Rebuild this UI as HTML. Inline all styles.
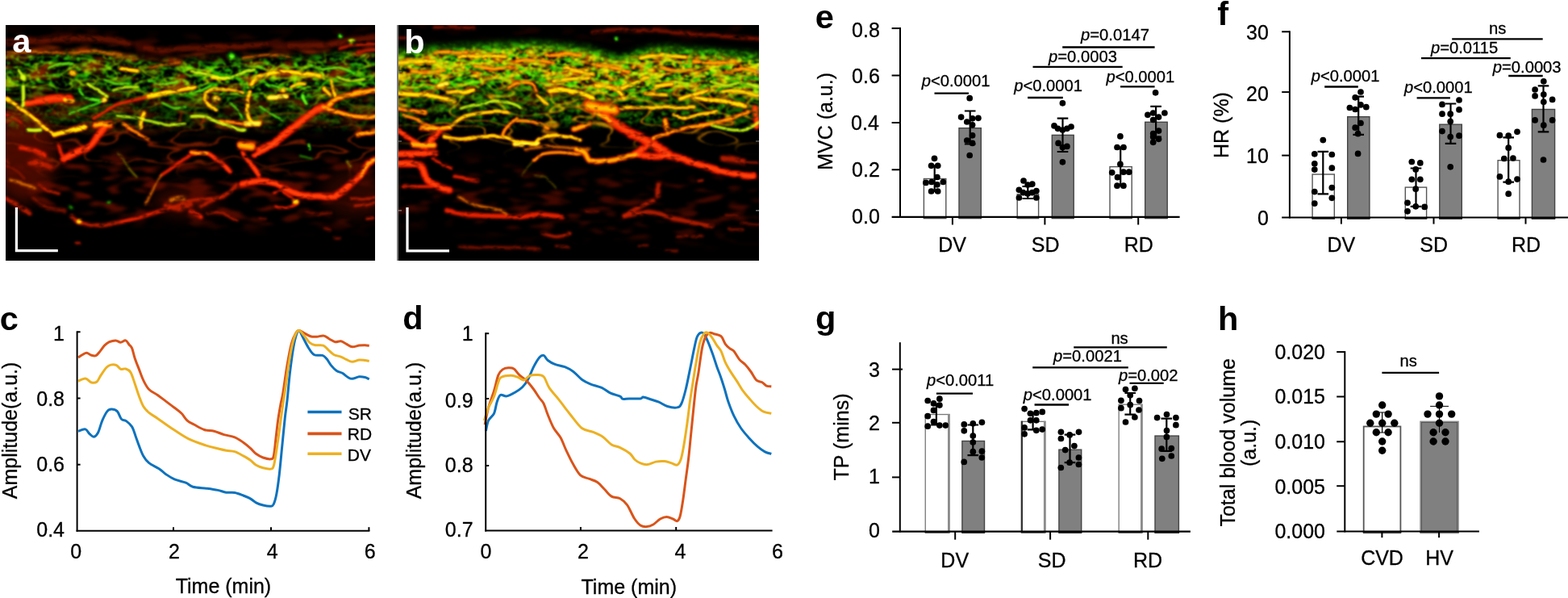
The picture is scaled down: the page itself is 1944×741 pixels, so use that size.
<!DOCTYPE html>
<html lang="en">
<head>
<meta charset="utf-8">
<title>Figure panels a-h</title>
<style>
html,body{margin:0;padding:0;background:#fff;}
body{width:1944px;height:741px;overflow:hidden;}
svg{display:block;font-family:"Liberation Sans", sans-serif;}
</style>
</head>
<body>
<svg width="1944" height="741" viewBox="0 0 1944 741">
<rect width="1944" height="741" fill="#fff"/>
<defs>
<clipPath id="clipA"><rect x="7" y="31" width="458" height="292"/></clipPath>
<clipPath id="clipB"><rect x="494" y="31" width="447" height="292"/></clipPath>
<filter id="b3" filterUnits="userSpaceOnUse" x="0" y="20" width="980" height="320" color-interpolation-filters="sRGB"><feGaussianBlur stdDeviation="4"/></filter>
<filter id="b8" filterUnits="userSpaceOnUse" x="0" y="20" width="980" height="320" color-interpolation-filters="sRGB"><feGaussianBlur stdDeviation="9"/></filter>
<filter id="vA0" filterUnits="userSpaceOnUse" x="0" y="20" width="980" height="320" color-interpolation-filters="sRGB"><feTurbulence type="fractalNoise" baseFrequency="0.035" numOctaves="2" seed="3" result="t1"/><feDisplacementMap in="SourceGraphic" in2="t1" scale="4.5" xChannelSelector="R" yChannelSelector="G" result="d"/><feGaussianBlur in="d" stdDeviation="1.7" result="b"/><feTurbulence type="fractalNoise" baseFrequency="0.09 0.14" numOctaves="2" seed="43" result="t2"/><feColorMatrix in="t2" type="matrix" values="0 0 0 0 1 0 0 0 0 1 0 0 0 0 1 2.3 0 0 0 -0.15" result="m"/><feComposite in="b" in2="m" operator="in"/></filter>
<filter id="vA1" filterUnits="userSpaceOnUse" x="0" y="20" width="980" height="320" color-interpolation-filters="sRGB"><feTurbulence type="fractalNoise" baseFrequency="0.035" numOctaves="2" seed="3" result="t1"/><feDisplacementMap in="SourceGraphic" in2="t1" scale="4.5" xChannelSelector="R" yChannelSelector="G" result="d"/><feGaussianBlur in="d" stdDeviation="1.2" result="b"/><feTurbulence type="fractalNoise" baseFrequency="0.09 0.14" numOctaves="2" seed="43" result="t2"/><feColorMatrix in="t2" type="matrix" values="0 0 0 0 1 0 0 0 0 1 0 0 0 0 1 2.3 0 0 0 -0.15" result="m"/><feComposite in="b" in2="m" operator="in"/></filter>
<filter id="vA2" filterUnits="userSpaceOnUse" x="0" y="20" width="980" height="320" color-interpolation-filters="sRGB"><feTurbulence type="fractalNoise" baseFrequency="0.035" numOctaves="2" seed="3" result="t1"/><feDisplacementMap in="SourceGraphic" in2="t1" scale="4.5" xChannelSelector="R" yChannelSelector="G" result="d"/><feGaussianBlur in="d" stdDeviation="0.9" result="b"/><feTurbulence type="fractalNoise" baseFrequency="0.09 0.14" numOctaves="2" seed="43" result="t2"/><feColorMatrix in="t2" type="matrix" values="0 0 0 0 1 0 0 0 0 1 0 0 0 0 1 2.3 0 0 0 -0.15" result="m"/><feComposite in="b" in2="m" operator="in"/></filter>
<filter id="vB0" filterUnits="userSpaceOnUse" x="0" y="20" width="980" height="320" color-interpolation-filters="sRGB"><feTurbulence type="fractalNoise" baseFrequency="0.035" numOctaves="2" seed="9" result="t1"/><feDisplacementMap in="SourceGraphic" in2="t1" scale="4.5" xChannelSelector="R" yChannelSelector="G" result="d"/><feGaussianBlur in="d" stdDeviation="1.7" result="b"/><feTurbulence type="fractalNoise" baseFrequency="0.09 0.14" numOctaves="2" seed="49" result="t2"/><feColorMatrix in="t2" type="matrix" values="0 0 0 0 1 0 0 0 0 1 0 0 0 0 1 2.3 0 0 0 -0.15" result="m"/><feComposite in="b" in2="m" operator="in"/></filter>
<filter id="vB1" filterUnits="userSpaceOnUse" x="0" y="20" width="980" height="320" color-interpolation-filters="sRGB"><feTurbulence type="fractalNoise" baseFrequency="0.035" numOctaves="2" seed="9" result="t1"/><feDisplacementMap in="SourceGraphic" in2="t1" scale="4.5" xChannelSelector="R" yChannelSelector="G" result="d"/><feGaussianBlur in="d" stdDeviation="1.2" result="b"/><feTurbulence type="fractalNoise" baseFrequency="0.09 0.14" numOctaves="2" seed="49" result="t2"/><feColorMatrix in="t2" type="matrix" values="0 0 0 0 1 0 0 0 0 1 0 0 0 0 1 2.3 0 0 0 -0.15" result="m"/><feComposite in="b" in2="m" operator="in"/></filter>
<filter id="vB2" filterUnits="userSpaceOnUse" x="0" y="20" width="980" height="320" color-interpolation-filters="sRGB"><feTurbulence type="fractalNoise" baseFrequency="0.035" numOctaves="2" seed="9" result="t1"/><feDisplacementMap in="SourceGraphic" in2="t1" scale="4.5" xChannelSelector="R" yChannelSelector="G" result="d"/><feGaussianBlur in="d" stdDeviation="0.9" result="b"/><feTurbulence type="fractalNoise" baseFrequency="0.09 0.14" numOctaves="2" seed="49" result="t2"/><feColorMatrix in="t2" type="matrix" values="0 0 0 0 1 0 0 0 0 1 0 0 0 0 1 2.3 0 0 0 -0.15" result="m"/><feComposite in="b" in2="m" operator="in"/></filter>
<filter id="nAg" filterUnits="userSpaceOnUse" x="0" y="20" width="980" height="320" color-interpolation-filters="sRGB"><feTurbulence type="fractalNoise" baseFrequency="0.09 0.15" numOctaves="2" seed="4"/><feColorMatrix type="matrix" values="0 0 0 0 0.12 0 0 0 0 0.75 0 0 0 0 0.02 5 0 0 0 -2.65"/><feGaussianBlur stdDeviation="1"/></filter>
<filter id="sAg" filterUnits="userSpaceOnUse" x="0" y="20" width="980" height="320" color-interpolation-filters="sRGB"><feTurbulence type="fractalNoise" baseFrequency="0.2 0.28" numOctaves="2" seed="41"/><feColorMatrix type="matrix" values="0 0 0 0 0.25 0 0 0 0 0.9 0 0 0 0 0.02 7 0 0 0 -4.09"/><feGaussianBlur stdDeviation="0.8"/></filter>
<filter id="sBg" filterUnits="userSpaceOnUse" x="0" y="20" width="980" height="320" color-interpolation-filters="sRGB"><feTurbulence type="fractalNoise" baseFrequency="0.2 0.28" numOctaves="2" seed="43"/><feColorMatrix type="matrix" values="0 0 0 0 0.25 0 0 0 0 0.85 0 0 0 0 0.02 7 0 0 0 -3.99"/><feGaussianBlur stdDeviation="0.8"/></filter>
<filter id="sBo" filterUnits="userSpaceOnUse" x="0" y="20" width="980" height="320" color-interpolation-filters="sRGB"><feTurbulence type="fractalNoise" baseFrequency="0.18 0.28" numOctaves="2" seed="47"/><feColorMatrix type="matrix" values="0 0 0 0 1 0 0 0 0 0.5 0 0 0 0 0 7 0 0 0 -4.06"/><feGaussianBlur stdDeviation="0.8"/></filter>
<filter id="nAr" filterUnits="userSpaceOnUse" x="0" y="20" width="980" height="320" color-interpolation-filters="sRGB"><feTurbulence type="fractalNoise" baseFrequency="0.03 0.09" numOctaves="2" seed="11"/><feColorMatrix type="matrix" values="0 0 0 0 0.55 0 0 0 0 0.14 0 0 0 0 0 4 0 0 0 -1.88"/><feGaussianBlur stdDeviation="1.6"/></filter>
<filter id="nAd" filterUnits="userSpaceOnUse" x="0" y="20" width="980" height="320" color-interpolation-filters="sRGB"><feTurbulence type="fractalNoise" baseFrequency="0.03 0.08" numOctaves="2" seed="23"/><feColorMatrix type="matrix" values="0 0 0 0 0.45 0 0 0 0 0.06 0 0 0 0 0 5 0 0 0 -2.5"/><feGaussianBlur stdDeviation="1.8"/></filter>
<filter id="cAg" filterUnits="userSpaceOnUse" x="0" y="20" width="980" height="320" color-interpolation-filters="sRGB"><feTurbulence type="fractalNoise" baseFrequency="0.03 0.075" numOctaves="2" seed="4"/><feColorMatrix type="matrix" values="0 0 0 0 0.2 0 0 0 0 0.95 0 0 0 0 0 1 0 0 0 0"/><feComponentTransfer><feFuncA type="table" tableValues="0 0 0 0 0 0 0 0 0 0 0 0 0 0 0 0 0 0.5 1 0.5 0 0 0 0 0 0 0 0 0 0 0 0 0 0 0 0 0"/></feComponentTransfer><feGaussianBlur stdDeviation="0.8"/></filter>
<filter id="cAy" filterUnits="userSpaceOnUse" x="0" y="20" width="980" height="320" color-interpolation-filters="sRGB"><feTurbulence type="fractalNoise" baseFrequency="0.022 0.06" numOctaves="2" seed="18"/><feColorMatrix type="matrix" values="0 0 0 0 0.7 0 0 0 0 1 0 0 0 0 0 1 0 0 0 0"/><feComponentTransfer><feFuncA type="table" tableValues="0 0 0 0 0 0 0 0 0 0 0 0 0 0 0 0 0 0 0 0 0 0 0 0 0 0 0 0 0 0.5 1 0.5 0 0 0 0 0 0 0 0 0 0 0 0 0 0 0 0 0 0 0 0 0 0 0 0 0 0 0 0 0"/></feComponentTransfer><feGaussianBlur stdDeviation="0.8"/></filter>
<filter id="cAo" filterUnits="userSpaceOnUse" x="0" y="20" width="980" height="320" color-interpolation-filters="sRGB"><feTurbulence type="fractalNoise" baseFrequency="0.016 0.045" numOctaves="2" seed="27"/><feColorMatrix type="matrix" values="0 0 0 0 0.85 0 0 0 0 0.2 0 0 0 0 0 1 0 0 0 0"/><feComponentTransfer><feFuncA type="table" tableValues="0 0 0 0 0 0 0 0 0 0 0 0 0 0 0 0 0 0 0 0 0 0 0 0 0 0 0 0 0 0 0 0 0 0 0 0 0 0 0 0 0 0 0 0.2 0.6 1 0.6 0.2 0 0 0 0 0 0 0 0 0 0 0 0 0 0 0 0 0 0 0 0 0 0 0 0 0 0 0 0 0 0 0 0 0 0 0 0 0 0 0 0 0 0 0"/></feComponentTransfer><feGaussianBlur stdDeviation="1.2"/></filter>
<filter id="nBg" filterUnits="userSpaceOnUse" x="0" y="20" width="980" height="320" color-interpolation-filters="sRGB"><feTurbulence type="fractalNoise" baseFrequency="0.09 0.15" numOctaves="2" seed="5"/><feColorMatrix type="matrix" values="0 0 0 0 0.12 0 0 0 0 0.7 0 0 0 0 0.02 5 0 0 0 -2.35"/><feGaussianBlur stdDeviation="1"/></filter>
<filter id="nBy" filterUnits="userSpaceOnUse" x="0" y="20" width="980" height="320" color-interpolation-filters="sRGB"><feTurbulence type="fractalNoise" baseFrequency="0.04 0.13" numOctaves="2" seed="17"/><feColorMatrix type="matrix" values="0 0 0 0 0.85 0 0 0 0 0.33 0 0 0 0 0 4 0 0 0 -1.96"/><feGaussianBlur stdDeviation="1.4"/></filter>
<filter id="nBd" filterUnits="userSpaceOnUse" x="0" y="20" width="980" height="320" color-interpolation-filters="sRGB"><feTurbulence type="fractalNoise" baseFrequency="0.03 0.09" numOctaves="2" seed="29"/><feColorMatrix type="matrix" values="0 0 0 0 0.42 0 0 0 0 0.05 0 0 0 0 0 5 0 0 0 -2.6"/><feGaussianBlur stdDeviation="1.8"/></filter>
<filter id="cBy" filterUnits="userSpaceOnUse" x="0" y="20" width="980" height="320" color-interpolation-filters="sRGB"><feTurbulence type="fractalNoise" baseFrequency="0.028 0.075" numOctaves="2" seed="7"/><feColorMatrix type="matrix" values="0 0 0 0 1 0 0 0 0 0.8 0 0 0 0 0 1 0 0 0 0"/><feComponentTransfer><feFuncA type="table" tableValues="0 0 0 0 0 0 0 0 0 0 0 0 0 0 0 0 0 0 0 0 0 0.5 1 0.5 0 0 0 0 0 0 0 0 0 0 0 0 0 0 0 0 0 0 0 0 0"/></feComponentTransfer><feGaussianBlur stdDeviation="0.8"/></filter>
<filter id="cBo" filterUnits="userSpaceOnUse" x="0" y="20" width="980" height="320" color-interpolation-filters="sRGB"><feTurbulence type="fractalNoise" baseFrequency="0.022 0.065" numOctaves="2" seed="21"/><feColorMatrix type="matrix" values="0 0 0 0 1 0 0 0 0 0.42 0 0 0 0 0 1 0 0 0 0"/><feComponentTransfer><feFuncA type="table" tableValues="0 0 0 0 0 0 0 0 0 0 0 0 0 0 0 0 0 0 0.09 0.55 1 0.55 0.09 0 0 0 0 0 0 0 0 0 0 0 0 0 0 0 0 0 0"/></feComponentTransfer><feGaussianBlur stdDeviation="0.9"/></filter>
<filter id="cBg" filterUnits="userSpaceOnUse" x="0" y="20" width="980" height="320" color-interpolation-filters="sRGB"><feTurbulence type="fractalNoise" baseFrequency="0.035 0.08" numOctaves="2" seed="33"/><feColorMatrix type="matrix" values="0 0 0 0 0.25 0 0 0 0 1 0 0 0 0 0 1 0 0 0 0"/><feComponentTransfer><feFuncA type="table" tableValues="0 0 0 0 0 0 0 0 0 0 0 0 0 0.5 1 0.5 0 0 0 0 0 0 0 0 0 0 0 0 0"/></feComponentTransfer><feGaussianBlur stdDeviation="0.8"/></filter>
<filter id="cBl" filterUnits="userSpaceOnUse" x="0" y="20" width="980" height="320" color-interpolation-filters="sRGB"><feTurbulence type="fractalNoise" baseFrequency="0.016 0.045" numOctaves="2" seed="44"/><feColorMatrix type="matrix" values="0 0 0 0 1 0 0 0 0 0.6 0 0 0 0 0 1 0 0 0 0"/><feComponentTransfer><feFuncA type="table" tableValues="0 0 0 0 0 0 0 0 0 0 0 0 0 0 0 0 0 0 0 0 0 0 0 0 0 0 0 0 0 0 0 0 0 0 0 0 0 0 0 0 0 0 0 0.2 0.6 1 0.6 0.2 0 0 0 0 0 0 0 0 0 0 0 0 0 0 0 0 0 0 0 0 0 0 0 0 0 0 0 0 0 0 0 0 0 0 0 0 0 0 0 0 0 0 0"/></feComponentTransfer><feGaussianBlur stdDeviation="0.9"/></filter>
<mask id="mAg" maskUnits="userSpaceOnUse" x="0" y="20" width="980" height="320"><g filter="url(#b3)" fill="none" stroke="#fff" stroke-linecap="butt"><path d="M0 92 L40 90 L80 88 L120 87 L150 92 L180 98 L210 100 L237 98 L280 96 L330 94 L380 94 L420 90 L470 86" stroke-width="46" opacity="0.6"/><path d="M250 96 L400 100" stroke-width="40" opacity="0.5"/><path d="M0 140 L470 140" stroke-width="40" opacity="0.25"/></g></mask>
<mask id="mAr" maskUnits="userSpaceOnUse" x="0" y="20" width="980" height="320"><g filter="url(#b3)" fill="none" stroke="#fff" stroke-linecap="butt"><path d="M0 80 L40 78 L80 76 L120 75 L150 80 L180 86 L210 88 L237 86 L280 84 L330 82 L380 82 L420 78 L470 74" stroke-width="46" opacity="0.9"/><path d="M0 135 L470 135" stroke-width="60" opacity="0.5"/></g></mask>
<mask id="mAd" maskUnits="userSpaceOnUse" x="0" y="20" width="980" height="320"><g filter="url(#b8)" fill="none" stroke="#fff" stroke-linecap="butt"><path d="M0 215 L90 225 L237 238 L470 238" stroke-width="80" opacity="0.75"/><path d="M0 54 L40 52 L80 50 L120 49 L150 54 L180 60 L210 62 L237 60 L280 58 L330 56 L380 56 L420 52 L470 48" stroke-width="14" opacity="0.9"/></g></mask>
<mask id="mAc" maskUnits="userSpaceOnUse" x="0" y="20" width="980" height="320"><g filter="url(#b3)" fill="none" stroke="#fff" stroke-linecap="butt"><path d="M0 94 L40 92 L80 90 L120 89 L150 94 L180 100 L210 102 L237 100 L280 98 L330 96 L380 96 L420 92 L470 88" stroke-width="46" opacity="0.62"/><path d="M230 100 L410 104" stroke-width="44" opacity="0.5"/><path d="M0 135 L470 135" stroke-width="30" opacity="0.25"/></g></mask>
<mask id="mAo" maskUnits="userSpaceOnUse" x="0" y="20" width="980" height="320"><g filter="url(#b8)" fill="none" stroke="#fff" stroke-linecap="butt"><path d="M0 170 L470 170" stroke-width="80" opacity="0.55"/></g></mask>
<mask id="mBg" maskUnits="userSpaceOnUse" x="0" y="20" width="980" height="320"><g filter="url(#b3)" fill="none" stroke="#fff" stroke-linecap="butt"><path d="M490 90 L530 85 L570 83 L620 80 L660 79 L700 82 L730 86 L755 95 L775 98 L790 90 L810 85 L830 84 L860 87 L900 90 L945 94" stroke-width="50" opacity="0.95"/><path d="M490 130 L945 130" stroke-width="50" opacity="0.45"/></g></mask>
<mask id="mBy" maskUnits="userSpaceOnUse" x="0" y="20" width="980" height="320"><g filter="url(#b3)" fill="none" stroke="#fff" stroke-linecap="butt"><path d="M490 88 L530 83 L570 81 L620 78 L660 77 L700 80 L730 84 L755 93 L775 96 L790 88 L810 83 L830 82 L860 85 L900 88 L945 92" stroke-width="34" opacity="1"/></g></mask>
<mask id="mBc" maskUnits="userSpaceOnUse" x="0" y="20" width="980" height="320"><g filter="url(#b3)" fill="none" stroke="#fff" stroke-linecap="butt"><path d="M490 94 L530 89 L570 87 L620 84 L660 83 L700 86 L730 90 L755 99 L775 102 L790 94 L810 89 L830 88 L860 91 L900 94 L945 98" stroke-width="46" opacity="0.8"/><path d="M490 120 L945 120" stroke-width="30" opacity="0.3"/></g></mask>
<mask id="mBl" maskUnits="userSpaceOnUse" x="0" y="20" width="980" height="320"><g filter="url(#b8)" fill="none" stroke="#fff" stroke-linecap="butt"><path d="M490 142 L945 142" stroke-width="70" opacity="0.8"/></g></mask>
<mask id="mBd" maskUnits="userSpaceOnUse" x="0" y="20" width="980" height="320"><g filter="url(#b8)" fill="none" stroke="#fff" stroke-linecap="butt"><path d="M490 230 L700 255 L945 255" stroke-width="80" opacity="0.6"/><path d="M490 36 L945 40" stroke-width="10" opacity="0.5"/></g></mask>
</defs>
<g id="panel-a" clip-path="url(#clipA)" style="isolation:isolate">
<rect x="7" y="31" width="458" height="292" fill="#000"/>
<g mask="url(#mAd)" style="mix-blend-mode:screen"><rect x="7" y="31" width="458" height="292" filter="url(#nAd)"/></g>
<g filter="url(#b8)"><ellipse cx="30" cy="190" rx="38" ry="60" fill="#5a0d00" opacity="0.8"/><ellipse cx="230" cy="250" rx="40" ry="18" fill="#4a0a00" opacity="0.7"/><ellipse cx="440" cy="240" rx="40" ry="30" fill="#3a0800" opacity="0.7"/></g>
<g mask="url(#mAr)" style="mix-blend-mode:screen"><rect x="7" y="31" width="458" height="292" filter="url(#nAr)"/></g>
<g mask="url(#mAg)" style="mix-blend-mode:screen"><rect x="7" y="31" width="458" height="292" filter="url(#nAg)"/></g>
<g mask="url(#mAg)" style="mix-blend-mode:screen"><rect x="7" y="31" width="458" height="292" filter="url(#sAg)"/></g>
<g mask="url(#mAo)" style="mix-blend-mode:screen"><rect x="7" y="31" width="458" height="292" filter="url(#cAo)"/></g>
<g mask="url(#mAc)" style="mix-blend-mode:screen"><rect x="7" y="31" width="458" height="292" filter="url(#cAg)"/></g>
<g mask="url(#mAc)" style="mix-blend-mode:screen"><rect x="7" y="31" width="458" height="292" filter="url(#cAy)"/></g>
<defs><path id="a0" d="M7 53C12.5 52.67 27.83 51.67 40 51C52.17 50.33 66.67 49.67 80 49C93.33 48.33 110 47 120 47C130 47 133.33 47.67 140 49C146.67 50.33 156.67 54 160 55"/><path id="a1" d="M180 60C183.33 60.33 190.5 62.17 200 62C209.5 61.83 223.67 59.67 237 59C250.33 58.33 264.5 58.67 280 58C295.5 57.33 321.67 55.5 330 55"/><path id="a2" d="M360 57C366.67 56.83 388.33 57.17 400 56C411.67 54.83 419.17 51.83 430 50C440.83 48.17 459.17 45.83 465 45"/><path id="a3" d="M7 66C12.5 65.67 27.83 64 40 64C52.17 64 66.67 66 80 66C93.33 66 108.33 63.67 120 64C131.67 64.33 145 67.33 150 68"/><path id="a4" d="M444 66C445.83 65.5 451.5 63.67 455 63C458.5 62.33 463.33 62.17 465 62"/><path id="a5" d="M420 60C423.33 59.33 432.5 57 440 56C447.5 55 460.83 54.33 465 54"/><path id="a6" d="M184.4 84.2C187.83 83.5 198.43 81.15 205 80C211.57 78.85 220.67 77.75 223.8 77.3"/><path id="a7" d="M300 72C305 71.33 320 68.33 330 68C340 67.67 355 69.67 360 70"/><path id="a8" d="M26.7 183C28.92 183.5 35.12 184.33 40 186C44.88 187.67 53.33 191.83 56 193"/><path id="a9" d="M36.6 202.6C38.83 202.67 45.77 202.33 50 203C54.23 203.67 60 206 62 206.6"/><path id="a10" d="M13 224C15.5 224.67 23.08 226.67 28 228C32.92 229.33 40.08 231.33 42.5 232"/><path id="a11" d="M7 246C9.17 247.17 15.07 250.05 20 253C24.93 255.95 33.83 261.92 36.6 263.7"/><path id="a12" d="M7 205C9.17 206.17 16.17 209.17 20 212C23.83 214.83 28.33 220.33 30 222"/><path id="a13" d="M48 228C50 229.33 56 234 60 236C64 238 70 239.33 72 240"/><path id="a14" d="M40 245C43.33 247.17 53.33 255.17 60 258C66.67 260.83 76.67 261.33 80 262"/><path id="a15" d="M89.8 268C91.43 269.08 93.65 272.6 99.6 274.5C105.55 276.4 117.93 279.15 125.5 279.4C133.07 279.65 138.02 277.4 145 276C151.98 274.6 159.9 273 167.4 271C174.9 269 183.07 266.08 190 264C196.93 261.92 201.62 260.83 209 258.5C216.38 256.17 226.63 251.83 234.3 250C241.97 248.17 248.72 248.17 255 247.5C261.28 246.83 267.17 247.42 272 246C276.83 244.58 280.5 241.83 284 239C287.5 236.17 291.5 230.67 293 229"/><path id="a16" d="M150 275C152.9 274.33 160.73 272.83 167.4 271C174.07 269.17 183.07 266.08 190 264C196.93 261.92 205.83 259.42 209 258.5"/><path id="a17" d="M212 248C213.33 247.67 217.33 246.17 220 246C222.67 245.83 226.67 246.83 228 247"/><path id="a18" d="M206 255C208.33 255.5 214.83 258.17 220 258C225.17 257.83 234.17 254.67 237 254"/><path id="a19" d="M200 217C202 215.67 208 211.83 212 209C216 206.17 220.33 202.5 224 200C227.67 197.5 231 195.67 234 194C237 192.33 240.67 190.67 242 190"/><path id="a20" d="M200 217C198.33 219.5 193.33 226.17 190 232C186.67 237.83 181.67 248.67 180 252"/><path id="a21" d="M145 188.8C147.62 192.08 156.43 203.4 160.7 208.5C164.97 213.6 168.95 217.58 170.6 219.4"/><path id="a22" d="M93 300L98 301.5"/><path id="a23" d="M249 255.8C251.27 254.83 258.03 251.97 262.6 250C267.17 248.03 274.1 245 276.4 244"/><path id="a24" d="M237 262C238 262.33 241 263 243 264C245 265 248 267.33 249 268"/><path id="a25" d="M256.7 263.7C259.98 263.7 270.15 262.05 276.4 263.7C282.65 265.35 291.23 271.95 294.2 273.6"/><path id="a26" d="M434 246C436.67 246.33 444.83 248.33 450 248C455.17 247.67 462.5 244.67 465 244"/><path id="a27" d="M440 256C442.5 255.67 450.83 255 455 254C459.17 253 463.33 250.67 465 250"/><path id="a28" d="M322 271L329 272"/><path id="a29" d="M403 283L410 284"/><path id="a30" d="M415 295L422 296"/><path id="a31" d="M456 270L463 269"/><path id="a32" d="M380 262C382.5 262.67 390 265.67 395 266C400 266.33 407.5 264.33 410 264"/><path id="a33" d="M137 154.5C135.83 154.75 132.5 153.75 130 156C127.5 158.25 124.83 164 122 168C119.17 172 117.33 176.67 113 180C108.67 183.33 101.5 185.25 96 188C90.5 190.75 82.67 195.08 80 196.5"/><path id="a34" d="M80 196.5C79.33 195.08 77 190.58 76 188C75 185.42 74.33 182.17 74 181"/><path id="a35" d="M237 189.8C240.28 189.97 251.12 189 256.7 190.8C262.28 192.6 265.9 196.98 270.5 200.6C275.1 204.22 282 210.52 284.3 212.5"/><path id="a36" d="M237 189.8C238.83 189.83 244.72 189.83 248 190C251.28 190.17 255.25 190.67 256.7 190.8"/><path id="a37" d="M302 188.8C303.65 191.43 308.62 199.67 311.9 204.6C315.18 209.53 320.07 216.1 321.7 218.4"/><path id="a38" d="M298 180C299.17 180.17 302.67 180.67 305 181C307.33 181.33 310.83 181.83 312 182"/><path id="a39" d="M315.8 192.8C318.43 191.17 327 185.63 331.6 183C336.2 180.37 341.43 178 343.4 177"/><path id="a40" d="M300 228.2C303.62 227.55 314.47 224.3 321.7 224.3C328.93 224.3 337.15 226.23 343.4 228.2C349.65 230.17 353.93 233.8 359.2 236.1C364.47 238.4 369.08 241.02 375 242C380.92 242.98 388.8 241.67 394.7 242C400.6 242.33 405.8 244.65 410.4 244C415 243.35 418.35 240.73 422.3 238.1C426.25 235.47 430.17 231.82 434.1 228.2C438.03 224.58 442.62 220.33 445.9 216.4C449.18 212.47 450.62 207.55 453.8 204.6C456.98 201.65 463.13 199.68 465 198.7"/><path id="a41" d="M445.9 216.4C447.22 214.43 450.62 207.55 453.8 204.6C456.98 201.65 463.13 199.68 465 198.7"/><path id="a42" d="M339.5 240C341.47 239.68 347.37 237.1 351.3 238.1C355.23 239.1 360.15 243.7 363.1 246C366.05 248.3 370.3 249.93 369 251.9C367.7 253.87 359.88 257.15 355.3 257.8C350.72 258.45 343.8 256.13 341.5 255.8"/><path id="a43" d="M322 186C324.92 184.5 333.95 180.5 339.5 177C345.05 173.5 349.38 169.62 355.3 165C361.22 160.38 369.1 153.9 375 149.3C380.9 144.7 386.43 140.2 390.7 137.4C394.97 134.6 398.95 133.32 400.6 132.5"/><path id="a44" d="M400.6 132.5C403.55 133.48 412.72 136.6 418.3 138.4C423.88 140.2 428.82 142.2 434.1 143.3C439.38 144.4 444.85 144.67 450 145C455.15 145.33 462.5 145.25 465 145.3"/><path id="a45" d="M406.5 129.5C408.47 128.2 413.7 123.67 418.3 121.7C422.9 119.73 428.18 119.02 434.1 117.7C440.02 116.38 448.65 114.78 453.8 113.8C458.95 112.82 463.13 112.13 465 111.8"/><path id="a46" d="M444 167C445.83 166.5 451.5 164.83 455 164C458.5 163.17 463.33 162.33 465 162"/><path id="a47" d="M32.6 127.6C35.5 127.17 43.77 125.85 50 125C56.23 124.15 64.03 123.05 70 122.5C75.97 121.95 83.17 121.83 85.8 121.7"/><path id="a48" d="M115.4 147.3C117.83 145.75 125.07 140.97 130 138C134.93 135.03 139.17 131.83 145 129.5C150.83 127.17 158.43 125.63 165 124C171.57 122.37 181.17 120.42 184.4 119.7"/><path id="a49" d="M7 143C8.67 143.67 13.72 145.5 17 147C20.28 148.5 25.08 151.17 26.7 152"/><path id="a50" d="M7 122.6C8.97 123.75 14.53 126.7 18.8 129.5C23.07 132.3 28.33 136.1 32.6 139.4C36.87 142.7 40.45 146.02 44.4 149.3C48.35 152.58 52.35 156.15 56.3 159.1C60.25 162.05 66.13 165.68 68.1 167"/><path id="a51" d="M68.1 167C70.4 166.33 77.3 164.32 81.9 163C86.5 161.68 92.08 159.93 95.7 159.1C99.32 158.27 102.28 158.18 103.6 158"/><path id="a52" d="M34.6 161C35.83 161.08 39.37 161.5 42 161.5C44.63 161.5 49 161.08 50.4 161"/><path id="a53" d="M80 123.5L90 124.6"/><path id="a54" d="M184.4 119.7C187 119.08 194.9 117.2 200 116C205.1 114.8 210.33 113.5 215 112.5C219.67 111.5 223.67 110.67 228 110C232.33 109.33 238.83 108.75 241 108.5"/><path id="a55" d="M117 156C118.67 155.75 123.67 154.75 127 154.5C130.33 154.25 135.33 154.5 137 154.5"/><path id="a56" d="M178.5 139.4C178.08 140.83 176.67 145.07 176 148C175.33 150.93 174.75 155.5 174.5 157"/><path id="a57" d="M152.8 153.2C154.83 154.5 161.38 158.7 165 161C168.62 163.3 171.17 165.17 174.5 167C177.83 168.83 183.25 171.17 185 172"/><path id="a58" d="M149 85C150.83 85.25 156.4 86 160 86.5C163.6 87 168.83 87.75 170.6 88"/><path id="a59" d="M311.9 103.9C312.42 102.92 313.68 99.65 315 98C316.32 96.35 317.47 95.17 319.8 94C322.13 92.83 325.72 91.82 329 91C332.28 90.18 334.47 89.42 339.5 89.1C344.53 88.78 352.63 88.6 359.2 89.1C365.77 89.6 372.67 91.12 378.9 92.1C385.13 93.08 393.65 94.52 396.6 95"/><path id="a60" d="M262.6 96C264.67 96.08 271.05 96.5 275 96.5C278.95 96.5 284.42 96.08 286.3 96"/><path id="a61" d="M276.4 109.8C275 109.83 270.63 109.67 268 110C265.37 110.33 262.85 110.8 260.6 111.8C258.35 112.8 255.8 114.35 254.5 116C253.2 117.65 252.8 119.87 252.8 121.7C252.8 123.53 253.52 125.37 254.5 127C255.48 128.63 256.37 130.08 258.7 131.5C261.03 132.92 266.87 134.83 268.5 135.5"/><path id="a62" d="M276.4 109.8C278.67 110.17 285.73 110.97 290 112C294.27 113.03 300 115.33 302 116"/><path id="a63" d="M309.9 113.8C309.25 116.42 306.32 124.25 306 129.5C305.68 134.75 306.68 141.35 308 145.3C309.32 149.25 312.92 151.88 313.9 153.2"/><path id="a64" d="M304 153.5C305.5 153.45 310.05 153.25 313 153.2C315.95 153.15 320.25 153.2 321.7 153.2"/><path id="a65" d="M272.5 149.3C275.42 149.75 284.42 151.18 290 152C295.58 152.82 303.33 153.83 306 154.2"/><path id="a66" d="M333.6 121C335.5 120.92 341.38 120.55 345 120.5C348.62 120.45 353.58 120.67 355.3 120.7"/><path id="a67" d="M410.4 100C410.67 101.5 411.33 106.05 412 109C412.67 111.95 414 116.25 414.4 117.7"/><path id="a68" d="M400.6 109.8L408.5 117.7"/><path id="a69" d="M360 108C361.33 107.33 365 104.67 368 104C371 103.33 376.33 104 378 104"/><path id="a70" d="M28.7 105C28.75 107.17 29.03 113.5 29 118C28.97 122.5 28.58 129.67 28.5 132"/><path id="a71" d="M22 88C23 89 26.67 92.17 28 94C29.33 95.83 29.67 98.17 30 99"/><path id="a72" d="M85.8 141.4C89 140 98.43 135.63 105 133C111.57 130.37 121.83 126.83 125.2 125.6"/><path id="a73" d="M97.7 109.8C99 111.45 102.28 117.5 105.5 119.7C108.72 121.9 113.38 122.18 117 123C120.62 123.82 125.5 124.33 127.2 124.6"/><path id="a74" d="M109.5 103.9C111.25 105.08 116.07 108.37 120 111C123.93 113.63 130.92 118.25 133.1 119.7"/><path id="a75" d="M145 143.3C147.5 143.58 154.42 144.33 160 145C165.58 145.67 172.67 146.3 178.5 147.3C184.33 148.3 190.08 149.68 195 151C199.92 152.32 202.22 154.83 208 155.2C213.78 155.57 226.08 153.53 229.7 153.2"/><path id="a76" d="M237 88.2C240.28 88.85 251.2 90.97 256.7 92.1C262.2 93.23 265.07 94.35 270 95C274.93 95.65 282.13 96.33 286.3 96C290.47 95.67 292.38 93.98 295 93C297.62 92.02 298.53 91.23 302 90.1C305.47 88.97 313.5 86.85 315.8 86.2"/><path id="a77" d="M237 144.3C239.63 144.3 246.88 143.15 252.8 144.3C258.72 145.45 265.93 148.73 272.5 151.2C279.07 153.67 286.95 157.47 292.2 159.1C297.45 160.73 302.03 160.68 304 161"/><path id="a78" d="M375 117.7L380.9 127.6"/><path id="a79" d="M382.8 179L384 185"/><path id="a80" d="M373 193L386.8 196.7"/><path id="a81" d="M430 200L434 206"/><path id="a82" d="M130 100C132.5 100.83 140 104.33 145 105C150 105.67 157.5 104.17 160 104"/><path id="a83" d="M60 85C62.5 84.17 70 81.17 75 80C80 78.83 87.5 78.33 90 78"/><path id="a84" d="M200 128C202.5 129.17 210 134.17 215 135C220 135.83 227.5 133.33 230 133"/><path id="a85" d="M185 100C187.5 100.67 194.17 104 200 104C205.83 104 216.67 100.67 220 100"/><path id="a86" d="M140 112C142.5 111.33 149.67 108.67 155 108C160.33 107.33 169.17 108 172 108"/><path id="a87" d="M330 104C332.5 104.67 339.67 106.67 345 108C350.33 109.33 359.17 111.33 362 112"/><path id="a88" d="M385 82C387.5 82.67 394.17 85.67 400 86C405.83 86.33 413.33 83.33 420 84C426.67 84.67 436.67 89 440 90"/><path id="a89" d="M420 96C422.5 96.67 429.67 99.67 435 100C440.33 100.33 449.17 98.33 452 98"/><path id="a90" d="M240 116C241.67 115.33 246.33 113.67 250 112C253.67 110.33 260 107 262 106"/><path id="a91" d="M285 128C286.67 129.33 292.5 133 295 136C297.5 139 299.17 144.33 300 146"/><path id="a92" d="M322 132C324.17 133.33 330.33 137 335 140C339.67 143 347.5 148.33 350 150"/></defs>
<g filter="url(#vA0)" fill="none" stroke-linecap="round" stroke-linejoin="round"><use href="#a0" stroke="#3a0800" stroke-width="10.92" opacity="0.8"/><use href="#a1" stroke="#3a0800" stroke-width="9.1" opacity="0.8"/><use href="#a2" stroke="#3a0800" stroke-width="10.92" opacity="0.8"/><use href="#a3" stroke="#782200" stroke-width="4.55" opacity="0.8"/><use href="#a4" stroke="#600b00" stroke-width="7.28" opacity="0.9"/><use href="#a5" stroke="#600b00" stroke-width="5.46" opacity="0.9"/><use href="#a6" stroke="#782200" stroke-width="3.64" opacity="0.8"/><use href="#a7" stroke="#782200" stroke-width="3.64" opacity="0.8"/><use href="#a8" stroke="#8a0c00" stroke-width="7.28" opacity="0.9"/><use href="#a9" stroke="#600b00" stroke-width="10.92" opacity="0.9"/><use href="#a10" stroke="#782200" stroke-width="5.46" opacity="0.8"/><use href="#a11" stroke="#600b00" stroke-width="7.28" opacity="0.9"/><use href="#a12" stroke="#400800" stroke-width="7.28" opacity="0.9"/><use href="#a13" stroke="#600b00" stroke-width="4.55" opacity="0.9"/><use href="#a14" stroke="#400800" stroke-width="6.37" opacity="0.9"/><use href="#a15" stroke="#600b00" stroke-width="6.37" opacity="0.9"/><use href="#a16" stroke="#8a0c00" stroke-width="3.64" opacity="0.9"/><use href="#a17" stroke="#782200" stroke-width="8.19" opacity="0.8"/><use href="#a18" stroke="#600b00" stroke-width="9.1" opacity="0.9"/><use href="#a19" stroke="#8a0c00" stroke-width="4.55" opacity="0.9"/><use href="#a20" stroke="#782200" stroke-width="3.64" opacity="0.8"/><use href="#a21" stroke="#403800" stroke-width="2.73" opacity="0.7"/><use href="#a22" stroke="#600b00" stroke-width="3.64" opacity="0.9"/><use href="#a23" stroke="#600b00" stroke-width="4.55" opacity="0.9"/><use href="#a24" stroke="#8a0c00" stroke-width="6.37" opacity="0.9"/><use href="#a25" stroke="#600b00" stroke-width="3.64" opacity="0.9"/><use href="#a26" stroke="#600b00" stroke-width="4.55" opacity="0.9"/><use href="#a27" stroke="#600b00" stroke-width="4.55" opacity="0.9"/><use href="#a28" stroke="#400800" stroke-width="4.55" opacity="0.9"/><use href="#a29" stroke="#400800" stroke-width="4.55" opacity="0.9"/><use href="#a30" stroke="#400800" stroke-width="4.55" opacity="0.9"/><use href="#a31" stroke="#600b00" stroke-width="4.55" opacity="0.9"/><use href="#a32" stroke="#400800" stroke-width="4.55" opacity="0.9"/><use href="#a33" stroke="#a80e00" stroke-width="10.39" opacity="0.9"/><use href="#a34" stroke="#8a0c00" stroke-width="5.46" opacity="0.9"/><use href="#a35" stroke="#a80e00" stroke-width="5.67" opacity="0.9"/><use href="#a36" stroke="#c02400" stroke-width="4.72" opacity="0.9"/><use href="#a37" stroke="#a80e00" stroke-width="5.67" opacity="0.9"/><use href="#a38" stroke="#c02400" stroke-width="11.34" opacity="0.9"/><use href="#a39" stroke="#a80e00" stroke-width="6.62" opacity="0.9"/><use href="#a40" stroke="#a80e00" stroke-width="8.98" opacity="0.9"/><use href="#a41" stroke="#c02400" stroke-width="5.67" opacity="0.9"/><use href="#a42" stroke="#8a0c00" stroke-width="3.64" opacity="0.9"/><use href="#a43" stroke="#a80e00" stroke-width="10.39" opacity="0.9"/><use href="#a44" stroke="#c02400" stroke-width="5.67" opacity="0.9"/><use href="#a45" stroke="#c02400" stroke-width="7.56" opacity="0.9"/><use href="#a46" stroke="#c02400" stroke-width="6.62" opacity="0.9"/><use href="#a47" stroke="#a80e00" stroke-width="10.39" opacity="0.9"/><use href="#a48" stroke="#8a0c00" stroke-width="4.55" opacity="0.9"/><use href="#a49" stroke="#600b00" stroke-width="6.37" opacity="0.9"/><use href="#a50" stroke="#d04000" stroke-width="4.9" opacity="0.85"/><use href="#a51" stroke="#d04000" stroke-width="6.86" opacity="0.85"/><use href="#a52" stroke="#487800" stroke-width="4.9" opacity="0.75"/><use href="#a53" stroke="#d04000" stroke-width="4.9" opacity="0.85"/><use href="#a54" stroke="#d04000" stroke-width="6.86" opacity="0.85"/><use href="#a55" stroke="#c02400" stroke-width="8.5" opacity="0.9"/><use href="#a56" stroke="#d04000" stroke-width="5.88" opacity="0.85"/><use href="#a57" stroke="#c02400" stroke-width="3.78" opacity="0.9"/><use href="#a58" stroke="#d04000" stroke-width="4.9" opacity="0.85"/><use href="#a59" stroke="#d04000" stroke-width="5.39" opacity="0.85"/><use href="#a60" stroke="#d04000" stroke-width="3.92" opacity="0.85"/><use href="#a61" stroke="#d04000" stroke-width="3.92" opacity="0.85"/><use href="#a62" stroke="#d04000" stroke-width="2.94" opacity="0.85"/><use href="#a63" stroke="#d04000" stroke-width="4.9" opacity="0.85"/><use href="#a64" stroke="#e05800" stroke-width="7.84" opacity="0.85"/><use href="#a65" stroke="#c02400" stroke-width="3.78" opacity="0.9"/><use href="#a66" stroke="#e05800" stroke-width="6.37" opacity="0.85"/><use href="#a67" stroke="#d04000" stroke-width="4.41" opacity="0.85"/><use href="#a68" stroke="#d04000" stroke-width="3.92" opacity="0.85"/><use href="#a69" stroke="#d04000" stroke-width="3.92" opacity="0.85"/><use href="#a70" stroke="#487800" stroke-width="4.9" opacity="0.75"/><use href="#a71" stroke="#487800" stroke-width="3.92" opacity="0.75"/><use href="#a72" stroke="#0c6800" stroke-width="2.45" opacity="0.75"/><use href="#a73" stroke="#0c6800" stroke-width="2.94" opacity="0.75"/><use href="#a74" stroke="#487800" stroke-width="3.92" opacity="0.75"/><use href="#a75" stroke="#487800" stroke-width="2.94" opacity="0.75"/><use href="#a76" stroke="#487800" stroke-width="3.43" opacity="0.75"/><use href="#a77" stroke="#487800" stroke-width="3.92" opacity="0.75"/><use href="#a78" stroke="#0c6800" stroke-width="4.9" opacity="0.75"/><use href="#a79" stroke="#0c6800" stroke-width="2.94" opacity="0.75"/><use href="#a80" stroke="#0a5000" stroke-width="2.73" opacity="0.7"/><use href="#a81" stroke="#403800" stroke-width="3.64" opacity="0.7"/><use href="#a82" stroke="#0c6800" stroke-width="2.94" opacity="0.75"/><use href="#a83" stroke="#0c6800" stroke-width="2.94" opacity="0.75"/><use href="#a84" stroke="#0c6800" stroke-width="2.45" opacity="0.75"/><use href="#a85" stroke="#0c6800" stroke-width="2.94" opacity="0.75"/><use href="#a86" stroke="#487800" stroke-width="2.94" opacity="0.75"/><use href="#a87" stroke="#0c6800" stroke-width="2.94" opacity="0.75"/><use href="#a88" stroke="#0c6800" stroke-width="2.94" opacity="0.75"/><use href="#a89" stroke="#487800" stroke-width="2.94" opacity="0.75"/><use href="#a90" stroke="#0c6800" stroke-width="2.94" opacity="0.75"/><use href="#a91" stroke="#0c6800" stroke-width="2.45" opacity="0.75"/><use href="#a92" stroke="#0c6800" stroke-width="2.45" opacity="0.75"/><ellipse cx="129.2" cy="123.6" rx="4.48" ry="3.64" fill="#e05800" stroke="none" opacity="0.85"/><ellipse cx="268.5" cy="122.6" rx="5.6" ry="4.76" fill="#e05800" stroke="none" opacity="0.85"/><ellipse cx="351.3" cy="111.8" rx="4.2" ry="3.5" fill="#d04000" stroke="none" opacity="0.85"/><ellipse cx="367" cy="250" rx="4.48" ry="3.5" fill="#d04000" stroke="none" opacity="0.85"/><ellipse cx="286.3" cy="69.4" rx="5.6" ry="5.6" fill="#0c6800" stroke="none" opacity="0.75"/><ellipse cx="436" cy="50.7" rx="5.6" ry="4.2" fill="#487800" stroke="none" opacity="0.75"/><ellipse cx="422" cy="44" rx="3.5" ry="2.8" fill="#0c6800" stroke="none" opacity="0.75"/><ellipse cx="46.4" cy="202.6" rx="13" ry="9.1" fill="#600b00" stroke="none" opacity="0.9" transform="rotate(10 46.4 202.6)"/><ellipse cx="99" cy="273.5" rx="4.2" ry="3.5" fill="#d04000" stroke="none" opacity="0.85"/><ellipse cx="87.8" cy="256.8" rx="3.9" ry="2.6" fill="#0a5000" stroke="none" opacity="0.7" transform="rotate(30 87.8 256.8)"/><ellipse cx="135" cy="251.5" rx="3.9" ry="1.95" fill="#0a5000" stroke="none" opacity="0.7" transform="rotate(-10 135 251.5)"/><ellipse cx="28.7" cy="96" rx="5.6" ry="5.6" fill="#487800" stroke="none" opacity="0.75"/><ellipse cx="90" cy="90" rx="4.9" ry="4.2" fill="#d04000" stroke="none" opacity="0.85"/></g>
<g filter="url(#vA1)" fill="none" stroke-linecap="round" stroke-linejoin="round" style="mix-blend-mode:screen"><use href="#a0" stroke="#541000" stroke-width="5.88" opacity="0.6"/><use href="#a1" stroke="#541000" stroke-width="4.9" opacity="0.6"/><use href="#a2" stroke="#541000" stroke-width="5.88" opacity="0.6"/><use href="#a3" stroke="#c86000" stroke-width="2.45" opacity="0.8"/><use href="#a4" stroke="#a01600" stroke-width="4.2" opacity="0.8"/><use href="#a5" stroke="#a01600" stroke-width="3.15" opacity="0.8"/><use href="#a6" stroke="#c86000" stroke-width="1.96" opacity="0.8"/><use href="#a7" stroke="#c86000" stroke-width="1.96" opacity="0.8"/><use href="#a8" stroke="#dc1a00" stroke-width="4.48" opacity="0.9"/><use href="#a9" stroke="#a01600" stroke-width="6.3" opacity="0.8"/><use href="#a10" stroke="#c86000" stroke-width="2.94" opacity="0.8"/><use href="#a11" stroke="#a01600" stroke-width="4.2" opacity="0.8"/><use href="#a12" stroke="#600d00" stroke-width="3.92" opacity="0.7"/><use href="#a13" stroke="#a01600" stroke-width="2.62" opacity="0.8"/><use href="#a14" stroke="#600d00" stroke-width="3.43" opacity="0.7"/><use href="#a15" stroke="#a01600" stroke-width="3.67" opacity="0.8"/><use href="#a16" stroke="#dc1a00" stroke-width="2.24" opacity="0.9"/><use href="#a17" stroke="#c86000" stroke-width="4.41" opacity="0.8"/><use href="#a18" stroke="#a01600" stroke-width="5.25" opacity="0.8"/><use href="#a19" stroke="#dc1a00" stroke-width="2.8" opacity="0.9"/><use href="#a20" stroke="#c86000" stroke-width="1.96" opacity="0.8"/><use href="#a21" stroke="#7a6a00" stroke-width="1.47" opacity="0.8"/><use href="#a22" stroke="#a01600" stroke-width="2.1" opacity="0.8"/><use href="#a23" stroke="#a01600" stroke-width="2.62" opacity="0.8"/><use href="#a24" stroke="#dc1a00" stroke-width="3.92" opacity="0.9"/><use href="#a25" stroke="#a01600" stroke-width="2.1" opacity="0.8"/><use href="#a26" stroke="#a01600" stroke-width="2.62" opacity="0.8"/><use href="#a27" stroke="#a01600" stroke-width="2.62" opacity="0.8"/><use href="#a28" stroke="#600d00" stroke-width="2.45" opacity="0.7"/><use href="#a29" stroke="#600d00" stroke-width="2.45" opacity="0.7"/><use href="#a30" stroke="#600d00" stroke-width="2.45" opacity="0.7"/><use href="#a31" stroke="#a01600" stroke-width="2.62" opacity="0.8"/><use href="#a32" stroke="#600d00" stroke-width="2.45" opacity="0.7"/><use href="#a33" stroke="#f41c00" stroke-width="7.31" opacity="1"/><use href="#a34" stroke="#dc1a00" stroke-width="3.36" opacity="0.9"/><use href="#a35" stroke="#f41c00" stroke-width="3.99" opacity="1"/><use href="#a36" stroke="#ff5600" stroke-width="3.32" opacity="1"/><use href="#a37" stroke="#f41c00" stroke-width="3.99" opacity="1"/><use href="#a38" stroke="#ff5600" stroke-width="7.98" opacity="1"/><use href="#a39" stroke="#f41c00" stroke-width="4.65" opacity="1"/><use href="#a40" stroke="#f41c00" stroke-width="6.32" opacity="1"/><use href="#a41" stroke="#ff5600" stroke-width="3.99" opacity="1"/><use href="#a42" stroke="#dc1a00" stroke-width="2.24" opacity="0.9"/><use href="#a43" stroke="#f41c00" stroke-width="7.31" opacity="1"/><use href="#a44" stroke="#ff5600" stroke-width="3.99" opacity="1"/><use href="#a45" stroke="#ff5600" stroke-width="5.32" opacity="1"/><use href="#a46" stroke="#ff5600" stroke-width="4.65" opacity="1"/><use href="#a47" stroke="#f41c00" stroke-width="7.31" opacity="1"/><use href="#a48" stroke="#dc1a00" stroke-width="2.8" opacity="0.9"/><use href="#a49" stroke="#a01600" stroke-width="3.67" opacity="0.8"/><use href="#a50" stroke="#ff9800" stroke-width="3.5" opacity="1"/><use href="#a51" stroke="#ff9800" stroke-width="4.9" opacity="1"/><use href="#a52" stroke="#a8e800" stroke-width="3.32" opacity="1"/><use href="#a53" stroke="#ff9800" stroke-width="3.5" opacity="1"/><use href="#a54" stroke="#ff9800" stroke-width="4.9" opacity="1"/><use href="#a55" stroke="#ff5600" stroke-width="5.98" opacity="1"/><use href="#a56" stroke="#ff9800" stroke-width="4.2" opacity="1"/><use href="#a57" stroke="#ff5600" stroke-width="2.66" opacity="1"/><use href="#a58" stroke="#ff9800" stroke-width="3.5" opacity="1"/><use href="#a59" stroke="#ff9800" stroke-width="3.85" opacity="1"/><use href="#a60" stroke="#ff9800" stroke-width="2.8" opacity="1"/><use href="#a61" stroke="#ff9800" stroke-width="2.8" opacity="1"/><use href="#a62" stroke="#ff9800" stroke-width="2.1" opacity="1"/><use href="#a63" stroke="#ff9800" stroke-width="3.5" opacity="1"/><use href="#a64" stroke="#ffc400" stroke-width="5.6" opacity="1"/><use href="#a65" stroke="#ff5600" stroke-width="2.66" opacity="1"/><use href="#a66" stroke="#ffc400" stroke-width="4.55" opacity="1"/><use href="#a67" stroke="#ff9800" stroke-width="3.15" opacity="1"/><use href="#a68" stroke="#ff9800" stroke-width="2.8" opacity="1"/><use href="#a69" stroke="#ff9800" stroke-width="2.8" opacity="1"/><use href="#a70" stroke="#a8e800" stroke-width="3.32" opacity="1"/><use href="#a71" stroke="#a8e800" stroke-width="2.66" opacity="1"/><use href="#a72" stroke="#34e400" stroke-width="1.57" opacity="1"/><use href="#a73" stroke="#34e400" stroke-width="1.89" opacity="1"/><use href="#a74" stroke="#a8e800" stroke-width="2.66" opacity="1"/><use href="#a75" stroke="#a8e800" stroke-width="1.99" opacity="1"/><use href="#a76" stroke="#a8e800" stroke-width="2.33" opacity="1"/><use href="#a77" stroke="#a8e800" stroke-width="2.66" opacity="1"/><use href="#a78" stroke="#34e400" stroke-width="3.15" opacity="1"/><use href="#a79" stroke="#34e400" stroke-width="1.89" opacity="1"/><use href="#a80" stroke="#209000" stroke-width="1.47" opacity="0.8"/><use href="#a81" stroke="#7a6a00" stroke-width="1.96" opacity="0.8"/><use href="#a82" stroke="#34e400" stroke-width="1.89" opacity="1"/><use href="#a83" stroke="#34e400" stroke-width="1.89" opacity="1"/><use href="#a84" stroke="#34e400" stroke-width="1.57" opacity="1"/><use href="#a85" stroke="#34e400" stroke-width="1.89" opacity="1"/><use href="#a86" stroke="#a8e800" stroke-width="1.99" opacity="1"/><use href="#a87" stroke="#34e400" stroke-width="1.89" opacity="1"/><use href="#a88" stroke="#34e400" stroke-width="1.89" opacity="1"/><use href="#a89" stroke="#a8e800" stroke-width="1.99" opacity="1"/><use href="#a90" stroke="#34e400" stroke-width="1.89" opacity="1"/><use href="#a91" stroke="#34e400" stroke-width="1.57" opacity="1"/><use href="#a92" stroke="#34e400" stroke-width="1.57" opacity="1"/><ellipse cx="129.2" cy="123.6" rx="3.2" ry="2.6" fill="#ffc400" stroke="none" opacity="1"/><ellipse cx="268.5" cy="122.6" rx="4" ry="3.4" fill="#ffc400" stroke="none" opacity="1"/><ellipse cx="351.3" cy="111.8" rx="3" ry="2.5" fill="#ff9800" stroke="none" opacity="1"/><ellipse cx="367" cy="250" rx="3.2" ry="2.5" fill="#ff9800" stroke="none" opacity="1"/><ellipse cx="286.3" cy="69.4" rx="3.6" ry="3.6" fill="#34e400" stroke="none" opacity="1"/><ellipse cx="436" cy="50.7" rx="3.8" ry="2.85" fill="#a8e800" stroke="none" opacity="1"/><ellipse cx="422" cy="44" rx="2.25" ry="1.8" fill="#34e400" stroke="none" opacity="1"/><ellipse cx="46.4" cy="202.6" rx="7.5" ry="5.25" fill="#a01600" stroke="none" opacity="0.8" transform="rotate(10 46.4 202.6)"/><ellipse cx="99" cy="273.5" rx="3" ry="2.5" fill="#ff9800" stroke="none" opacity="1"/><ellipse cx="87.8" cy="256.8" rx="2.1" ry="1.4" fill="#209000" stroke="none" opacity="0.8" transform="rotate(30 87.8 256.8)"/><ellipse cx="135" cy="251.5" rx="2.1" ry="1.05" fill="#209000" stroke="none" opacity="0.8" transform="rotate(-10 135 251.5)"/><ellipse cx="28.7" cy="96" rx="3.8" ry="3.8" fill="#a8e800" stroke="none" opacity="1"/><ellipse cx="90" cy="90" rx="3.5" ry="3" fill="#ff9800" stroke="none" opacity="1"/></g>
<g filter="url(#vA2)" fill="none" stroke-linecap="round" stroke-linejoin="round" style="mix-blend-mode:screen"><use href="#a33" stroke="#ff4818" stroke-width="3.23" opacity="0.5"/><use href="#a35" stroke="#ff4818" stroke-width="1.76" opacity="0.5"/><use href="#a36" stroke="#ffa800" stroke-width="1.57" opacity="0.9"/><use href="#a37" stroke="#ff4818" stroke-width="1.76" opacity="0.5"/><use href="#a38" stroke="#ffa800" stroke-width="3.78" opacity="0.9"/><use href="#a39" stroke="#ff4818" stroke-width="2.06" opacity="0.5"/><use href="#a40" stroke="#ff4818" stroke-width="2.79" opacity="0.5"/><use href="#a41" stroke="#ffa800" stroke-width="1.89" opacity="0.9"/><use href="#a43" stroke="#ff4818" stroke-width="3.23" opacity="0.5"/><use href="#a44" stroke="#ffa800" stroke-width="1.89" opacity="0.9"/><use href="#a45" stroke="#ffa800" stroke-width="2.52" opacity="0.9"/><use href="#a46" stroke="#ffa800" stroke-width="2.2" opacity="0.9"/><use href="#a47" stroke="#ff4818" stroke-width="3.23" opacity="0.5"/><use href="#a50" stroke="#fff200" stroke-width="1.92" opacity="1"/><use href="#a51" stroke="#fff200" stroke-width="2.7" opacity="1"/><use href="#a52" stroke="#dcff30" stroke-width="1.57" opacity="0.9"/><use href="#a53" stroke="#fff200" stroke-width="1.92" opacity="1"/><use href="#a54" stroke="#fff200" stroke-width="2.7" opacity="1"/><use href="#a55" stroke="#ffa800" stroke-width="2.83" opacity="0.9"/><use href="#a56" stroke="#fff200" stroke-width="2.31" opacity="1"/><use href="#a57" stroke="#ffa800" stroke-width="1.26" opacity="0.9"/><use href="#a58" stroke="#fff200" stroke-width="1.92" opacity="1"/><use href="#a59" stroke="#fff200" stroke-width="2.12" opacity="1"/><use href="#a60" stroke="#fff200" stroke-width="1.54" opacity="1"/><use href="#a61" stroke="#fff200" stroke-width="1.54" opacity="1"/><use href="#a62" stroke="#fff200" stroke-width="1.16" opacity="1"/><use href="#a63" stroke="#fff200" stroke-width="1.92" opacity="1"/><use href="#a64" stroke="#ffff50" stroke-width="3.36" opacity="1"/><use href="#a65" stroke="#ffa800" stroke-width="1.26" opacity="0.9"/><use href="#a66" stroke="#ffff50" stroke-width="2.73" opacity="1"/><use href="#a67" stroke="#fff200" stroke-width="1.73" opacity="1"/><use href="#a68" stroke="#fff200" stroke-width="1.54" opacity="1"/><use href="#a69" stroke="#fff200" stroke-width="1.54" opacity="1"/><use href="#a70" stroke="#dcff30" stroke-width="1.57" opacity="0.9"/><use href="#a71" stroke="#dcff30" stroke-width="1.26" opacity="0.9"/><use href="#a72" stroke="#88ff48" stroke-width="0.8" opacity="0.7"/><use href="#a73" stroke="#88ff48" stroke-width="0.84" opacity="0.7"/><use href="#a74" stroke="#dcff30" stroke-width="1.26" opacity="0.9"/><use href="#a75" stroke="#dcff30" stroke-width="0.94" opacity="0.9"/><use href="#a76" stroke="#dcff30" stroke-width="1.1" opacity="0.9"/><use href="#a77" stroke="#dcff30" stroke-width="1.26" opacity="0.9"/><use href="#a78" stroke="#88ff48" stroke-width="1.4" opacity="0.7"/><use href="#a79" stroke="#88ff48" stroke-width="0.84" opacity="0.7"/><use href="#a82" stroke="#88ff48" stroke-width="0.84" opacity="0.7"/><use href="#a83" stroke="#88ff48" stroke-width="0.84" opacity="0.7"/><use href="#a84" stroke="#88ff48" stroke-width="0.8" opacity="0.7"/><use href="#a85" stroke="#88ff48" stroke-width="0.84" opacity="0.7"/><use href="#a86" stroke="#dcff30" stroke-width="0.94" opacity="0.9"/><use href="#a87" stroke="#88ff48" stroke-width="0.84" opacity="0.7"/><use href="#a88" stroke="#88ff48" stroke-width="0.84" opacity="0.7"/><use href="#a89" stroke="#dcff30" stroke-width="0.94" opacity="0.9"/><use href="#a90" stroke="#88ff48" stroke-width="0.84" opacity="0.7"/><use href="#a91" stroke="#88ff48" stroke-width="0.8" opacity="0.7"/><use href="#a92" stroke="#88ff48" stroke-width="0.8" opacity="0.7"/><ellipse cx="129.2" cy="123.6" rx="1.92" ry="1.56" fill="#ffff50" stroke="none" opacity="1"/><ellipse cx="268.5" cy="122.6" rx="2.4" ry="2.04" fill="#ffff50" stroke="none" opacity="1"/><ellipse cx="351.3" cy="111.8" rx="1.65" ry="1.38" fill="#fff200" stroke="none" opacity="1"/><ellipse cx="367" cy="250" rx="1.76" ry="1.38" fill="#fff200" stroke="none" opacity="1"/><ellipse cx="286.3" cy="69.4" rx="1.6" ry="1.6" fill="#88ff48" stroke="none" opacity="0.7"/><ellipse cx="436" cy="50.7" rx="1.8" ry="1.35" fill="#dcff30" stroke="none" opacity="0.9"/><ellipse cx="422" cy="44" rx="1" ry="0.8" fill="#88ff48" stroke="none" opacity="0.7"/><ellipse cx="99" cy="273.5" rx="1.65" ry="1.38" fill="#fff200" stroke="none" opacity="1"/><ellipse cx="28.7" cy="96" rx="1.8" ry="1.8" fill="#dcff30" stroke="none" opacity="0.9"/><ellipse cx="90" cy="90" rx="1.93" ry="1.65" fill="#fff200" stroke="none" opacity="1"/></g>
<path d="M20.4 256.9V310.6H71.8" fill="none" stroke="#fff" stroke-width="3.2"/>
</g>
<rect x="492" y="31" width="2.4" height="292" fill="#7a7a7a"/>
<g id="panel-b" clip-path="url(#clipB)" style="isolation:isolate">
<rect x="494" y="31" width="447" height="292" fill="#000"/>
<g mask="url(#mBd)" style="mix-blend-mode:screen"><rect x="494" y="31" width="447" height="292" filter="url(#nBd)"/></g>
<g filter="url(#b3)" fill="none"><path d="M490 67 L530 62 L570 60 L620 57 L660 56 L700 59 L730 63 L755 72 L775 75 L790 67 L810 62 L830 61 L860 64 L900 67 L945 71" stroke="#168a00" stroke-width="7" opacity="0.7"/></g>
<g mask="url(#mBg)" style="mix-blend-mode:screen"><rect x="494" y="31" width="447" height="292" filter="url(#nBg)"/></g>
<g mask="url(#mBg)" style="mix-blend-mode:screen"><rect x="494" y="31" width="447" height="292" filter="url(#sBg)"/></g>
<g mask="url(#mBy)" style="mix-blend-mode:screen"><rect x="494" y="31" width="447" height="292" filter="url(#sBo)"/></g>
<g mask="url(#mBy)" style="mix-blend-mode:screen"><rect x="494" y="31" width="447" height="292" filter="url(#nBy)"/></g>
<g mask="url(#mBl)" style="mix-blend-mode:screen"><rect x="494" y="31" width="447" height="292" filter="url(#cBl)"/></g>
<g mask="url(#mBc)" style="mix-blend-mode:screen"><rect x="494" y="31" width="447" height="292" filter="url(#cBg)"/></g>
<g mask="url(#mBc)" style="mix-blend-mode:screen"><rect x="494" y="31" width="447" height="292" filter="url(#cBo)"/></g>
<g mask="url(#mBc)" style="mix-blend-mode:screen"><rect x="494" y="31" width="447" height="292" filter="url(#cBy)"/></g>
<defs><path id="b0" d="M539 34C542.5 33.92 551.83 33.33 560 33.5C568.17 33.67 583.33 34.75 588 35"/><path id="b1" d="M735 40C742.5 39.5 764.17 37.17 780 37C795.83 36.83 813.33 37.83 830 39C846.67 40.17 861.5 42.5 880 44C898.5 45.5 930.83 47.33 941 48"/><path id="b2" d="M494 47L505 47"/><path id="b3" d="M539.3 295.3C542.75 295.58 551.8 296.68 560 297C568.2 297.32 583.75 297.17 588.5 297.2"/><path id="b4" d="M568.8 305C578.67 305.33 611.57 306.5 628 307C644.43 307.5 660.83 307.83 667.4 308"/><path id="b5" d="M671.3 289.3C674.58 289.97 685.08 293.3 691 293.3C696.92 293.3 704.17 289.97 706.8 289.3"/><path id="b6" d="M690 306L705 307"/><path id="b7" d="M568.8 244C572.08 245.65 580.62 251.27 588.5 253.9C596.38 256.53 609.52 257.83 616.1 259.8C622.68 261.77 626.02 264.72 628 265.7"/><path id="b8" d="M612.2 190.8C617.45 190.47 634.5 189.78 643.7 188.8C652.9 187.82 654.68 185.55 667.4 184.9C680.12 184.25 711.23 184.9 720 184.9"/><path id="b9" d="M647.7 216.4C648.35 215.42 649.3 213.45 651.6 210.5C653.9 207.55 659.85 200.67 661.5 198.7"/><path id="b10" d="M661.5 217.4C664.12 218.05 672.62 218.83 677.2 221.3C681.78 223.77 687.03 230.38 689 232.2"/><path id="b11" d="M896 196C898.33 196.33 905.67 197.17 910 198C914.33 198.83 920 200.5 922 201"/><path id="b12" d="M922 201L939.7 201.6"/><path id="b13" d="M815.5 228L815.5 242"/><path id="b14" d="M774.1 267.7C777.38 265.72 787.88 259.08 793.8 255.8C799.72 252.52 806.97 249.3 809.6 248"/><path id="b15" d="M774.1 267.7C779.03 267.03 793.83 263.38 803.7 263.7C813.57 264.02 823.45 267.63 833.3 269.6C843.15 271.57 854.6 273.85 862.8 275.5C871 277.15 879.22 278.83 882.5 279.5"/><path id="b16" d="M728 261.7L741 261.7"/><path id="b17" d="M839 292.3L851 292.3"/><path id="b18" d="M858 293.3L871 293.3"/><path id="b19" d="M826 310L840 310"/><path id="b20" d="M903 284.4L921 284.4"/><path id="b21" d="M900 267.7L916 267.7"/><path id="b22" d="M866 224.3L871 223.5"/><path id="b23" d="M792 305L803 305"/><path id="b24" d="M920 277L941 278"/><path id="b25" d="M494 190.8C497.5 190.75 507.45 190.67 515 190.5C522.55 190.33 535.25 189.92 539.3 189.8"/><path id="b26" d="M494 202.6C498.27 202.93 513.7 201.32 519.6 204.6C525.5 207.88 525.13 217.7 529.4 222.3C533.67 226.9 540.6 229.9 545.2 232.2C549.8 234.5 555.03 235.45 557 236.1"/><path id="b27" d="M535.3 196.7L559 208.5"/><path id="b28" d="M499.9 231.2L545.2 231.2"/><path id="b29" d="M562.9 218.4L592.5 223.3"/><path id="b30" d="M555 261.7C558.95 262.53 569.82 265.55 578.7 266.7C587.58 267.85 598.45 268.28 608.3 268.6C618.15 268.92 627.95 269.08 637.8 268.6C647.65 268.12 657.53 265.7 667.4 265.7C677.27 265.7 692.07 268.12 697 268.6"/><path id="b31" d="M750 143C752 144.67 757.98 150 762 153C766.02 156 768.8 158 774.1 161C779.4 164 788.22 168.33 793.8 171C799.38 173.67 803.23 174.67 807.6 177C811.97 179.33 816.38 182.53 820 185C823.62 187.47 827.75 190.67 829.3 191.8"/><path id="b32" d="M805.7 177C804.08 178.25 799.13 181.95 796 184.5C792.87 187.05 788.42 191 786.9 192.3"/><path id="b33" d="M786.9 192.3C790.42 192.42 800.93 193 808 193C815.07 193 825.75 192.42 829.3 192.3"/><path id="b34" d="M829.3 192.8C833.25 193.95 845.12 197.4 853 199.7C860.88 202 868.4 204.3 876.6 206.6C884.8 208.9 894.65 211.7 902.2 213.5C909.75 215.3 916.63 216.58 921.9 217.4C927.17 218.22 931.82 218.23 933.8 218.4"/><path id="b35" d="M936 134C936.33 136 937.67 142.17 938 146C938.33 149.83 938 155.17 938 157"/><path id="b36" d="M661.5 198.7C663.47 197.38 667.38 192.45 673.3 190.8C679.22 189.15 689.22 188.63 697 188.8C704.78 188.97 716.17 191.3 720 191.8"/><path id="b37" d="M787.9 192.8C783.97 193.45 771.52 195.55 764.3 196.7C757.08 197.85 750.18 199.37 744.6 199.7C739.02 200.03 734.08 200.52 730.8 198.7C727.52 196.88 727.53 191.1 724.9 188.8C722.27 186.5 716.65 185.55 715 184.9"/><path id="b38" d="M730 130C732.67 130.58 740.67 132.5 746 133.5C751.33 134.5 759.33 135.58 762 136"/><path id="b39" d="M738 140C740 141 747 144.33 750 146C753 147.67 755 149.33 756 150"/><path id="b40" d="M825.4 149.3L827.3 165"/><path id="b41" d="M809.6 171C813.55 169.67 826.07 165.32 833.3 163C840.53 160.68 844.8 158.73 853 157.1C861.2 155.47 873.97 154.83 882.5 153.2C891.03 151.57 896.63 149.77 904.2 147.3C911.77 144.83 923.95 139.88 927.9 138.4"/><path id="b42" d="M738.6 105.9C742.88 106.88 758.38 109.17 764.3 111.8C770.22 114.43 772.47 120.05 774.1 121.7"/><path id="b43" d="M770.2 109.8C773.48 108.5 784.32 104.3 789.9 102C795.48 99.7 801.4 97 803.7 96"/><path id="b44" d="M770.2 133.5C775.78 133.33 793.18 132.5 803.7 132.5C814.22 132.5 823.78 133.33 833.3 133.5C842.82 133.67 856.22 133.5 860.8 133.5"/><path id="b45" d="M799.7 115.7L825.4 117.7"/><path id="b46" d="M813.5 106.9L833.3 103.9"/><path id="b47" d="M843.1 123.6C846.72 122.28 859.22 118 864.8 115.7C870.38 113.4 874.63 110.78 876.6 109.8"/><path id="b48" d="M860.8 121.7C866.07 122.35 883.85 124.62 892.4 125.6C900.95 126.58 906.85 126.62 912.1 127.6C917.35 128.58 921.93 130.85 923.9 131.5"/><path id="b49" d="M638 178.5C640.33 178.42 647.17 178 652 178C656.83 178 664.5 178.42 667 178.5"/><path id="b50" d="M882.5 155.2C886.77 156.17 900.53 160.35 908.1 161C915.67 161.65 922.42 160.73 927.9 159.1C933.38 157.47 938.82 152.52 941 151.2"/><path id="b51" d="M835 142C837.5 142.67 844.17 146.17 850 146C855.83 145.83 863.33 142.17 870 141C876.67 139.83 886.67 139.33 890 139"/><path id="b52" d="M880 100C883.33 101 893.33 105.67 900 106C906.67 106.33 913.17 101.67 920 102C926.83 102.33 937.5 107 941 108"/><path id="b53" d="M895 115C898.33 114.67 907.33 112.5 915 113C922.67 113.5 936.67 117.17 941 118"/><path id="b54" d="M494 115.6C496.7 115.83 504.12 116.55 510.2 117C516.28 117.45 523.75 117.4 530.5 118.3C537.25 119.2 545.3 121.38 550.7 122.4C556.1 123.42 560.87 124.07 562.9 124.4"/><path id="b55" d="M544 106.2L553.4 103.5"/><path id="b56" d="M554.8 114.3C556.6 113.97 562 112.18 565.6 112.3C569.2 112.42 572.8 115.12 576.4 115C580 114.88 585.4 112.17 587.2 111.6"/><path id="b57" d="M494 134.5C496.25 134.85 502.1 135.7 507.5 136.6C512.9 137.5 523.25 139.35 526.4 139.9"/><path id="b58" d="M500.8 142.6C503.5 143.5 511.38 145.75 517 148C522.62 150.25 529.55 154.07 534.5 156.1C539.45 158.13 544.67 159.52 546.7 160.2"/><path id="b59" d="M523.7 157.5C527.08 157.95 538.37 160.2 544 160.2C549.63 160.2 555.25 157.95 557.5 157.5"/><path id="b60" d="M557.5 157.5C558.85 156.37 562.45 152.95 565.6 150.7C568.75 148.45 571.9 145.68 576.4 144C580.9 142.32 586.75 141.5 592.6 140.6C598.45 139.7 605.2 138.82 611.5 138.6C617.8 138.38 627.25 139.18 630.4 139.3"/><path id="b61" d="M494 162.9C496.03 164.25 501.25 167.85 506.2 171C511.15 174.15 520.78 180 523.7 181.8"/><path id="b62" d="M527.8 181.8C529.37 180 534.5 174.15 537.2 171C539.9 167.85 542.87 164.25 544 162.9"/><path id="b63" d="M549.4 169.6C553 170.05 563.8 172.3 571 172.3C578.2 172.3 584.05 170.05 592.6 169.6C601.15 169.15 614.67 168.92 622.3 169.6C629.93 170.28 631.88 172.35 638.4 173.7C644.92 175.05 656.22 177.93 661.4 177.7C666.58 177.47 665.45 173.98 669.5 172.3C673.55 170.62 679.63 168.15 685.7 167.6C691.77 167.05 700.28 167.98 705.9 169C711.52 170.02 717.15 172.92 719.4 173.7"/><path id="b64" d="M622.3 169.6C622.97 168.03 624.05 163.35 626.3 160.2C628.55 157.05 633.55 152.95 635.8 150.7C638.05 148.45 639.13 147.37 639.8 146.7"/><path id="b65" d="M639.8 149.4C642.95 149.62 653.53 149.8 658.7 150.7C663.87 151.6 667.43 153.22 670.8 154.8C674.17 156.38 677.55 159.3 678.9 160.2"/><path id="b66" d="M630.4 108.9C631.97 108 636.22 104.63 639.8 103.5C643.38 102.37 648.3 101.88 651.9 102.1C655.5 102.32 659.15 103.22 661.4 104.8C663.65 106.38 664.73 110.47 665.4 111.6"/><path id="b67" d="M681.6 112.9C684.75 112.68 694.2 111.15 700.5 111.6C706.8 112.05 713.7 113.92 719.4 115.6C725.1 117.28 732.15 120.68 734.7 121.7"/><path id="b68" d="M600.7 129.1C602.5 128.43 607.23 125.55 611.5 125.1C615.77 124.65 621.82 125.5 626.3 126.4C630.78 127.3 635.03 129.15 638.4 130.5C641.77 131.85 645.15 133.83 646.5 134.5"/><path id="b69" d="M665.4 117C666.3 117.9 668.55 120.38 670.8 122.4C673.05 124.42 677.55 127.98 678.9 129.1"/><path id="b70" d="M687 100.8C690.15 100.35 698.73 98.78 705.9 98.1C713.07 97.42 725.98 96.93 730 96.7"/><path id="b71" d="M571 134.5C573.25 133.83 580 131.4 584.5 130.5C589 129.6 595.75 129.33 598 129.1"/><path id="b72" d="M711.3 160.2L730 153.4"/><path id="b73" d="M652 184.5C656.5 184.05 670 182.05 679 181.8C688 181.55 697.5 182.33 706 183C714.5 183.67 726 185.33 730 185.8"/><path id="b74" d="M512 179C514.17 179.17 520.67 179.83 525 180C529.33 180.17 535.83 180 538 180"/><path id="b75" d="M494 78C497.5 77.83 507.5 77.33 515 77C522.5 76.67 535 76.17 539 76"/><path id="b76" d="M569 71C574.17 70.67 590.17 69.17 600 69C609.83 68.83 623.33 69.83 628 70"/><path id="b77" d="M640 76C643.33 75.67 652.5 73.67 660 74C667.5 74.33 680.83 77.33 685 78"/><path id="b78" d="M677 68C680.83 67.83 692.83 66.83 700 67C707.17 67.17 716.67 68.67 720 69"/><path id="b79" d="M735 80C739.17 80.67 752.5 82.67 760 84C767.5 85.33 776.67 87.33 780 88"/><path id="b80" d="M795 72C799.17 71.33 810.83 68.33 820 68C829.17 67.67 845 69.67 850 70"/><path id="b81" d="M860 76C864.17 76.33 876.67 78 885 78C893.33 78 905.83 76.33 910 76"/><path id="b82" d="M900 88C903.33 87.67 913.17 85.67 920 86C926.83 86.33 937.5 89.33 941 90"/><path id="b83" d="M510 88C513.33 88.33 523.33 90.17 530 90C536.67 89.83 546.67 87.5 550 87"/><path id="b84" d="M590 82C593.33 82.5 603 84.83 610 85C617 85.17 628.33 83.33 632 83"/><path id="b85" d="M700 84C702.5 84.67 709.17 86.67 715 88C720.83 89.33 731.67 91.33 735 92"/><path id="b86" d="M820 84C823.33 84.67 833 87.67 840 88C847 88.33 858.33 86.33 862 86"/><path id="b87" d="M540 66C543.33 65.83 553.33 65 560 65C566.67 65 576.67 65.83 580 66"/></defs>
<g filter="url(#vB0)" fill="none" stroke-linecap="round" stroke-linejoin="round"><use href="#b0" stroke="#400800" stroke-width="6.37" opacity="0.9"/><use href="#b1" stroke="#400800" stroke-width="6.37" opacity="0.9"/><use href="#b2" stroke="#400800" stroke-width="4.55" opacity="0.9"/><use href="#b3" stroke="#600b00" stroke-width="7.28" opacity="0.9"/><use href="#b4" stroke="#400800" stroke-width="5.46" opacity="0.9"/><use href="#b5" stroke="#600b00" stroke-width="4.55" opacity="0.9"/><use href="#b6" stroke="#400800" stroke-width="4.55" opacity="0.9"/><use href="#b7" stroke="#782200" stroke-width="5.46" opacity="0.8"/><use href="#b8" stroke="#782200" stroke-width="3.64" opacity="0.8"/><use href="#b9" stroke="#403800" stroke-width="1.82" opacity="0.7"/><use href="#b10" stroke="#403800" stroke-width="1.82" opacity="0.7"/><use href="#b11" stroke="#600b00" stroke-width="8.19" opacity="0.9"/><use href="#b12" stroke="#600b00" stroke-width="2.73" opacity="0.9"/><use href="#b13" stroke="#600b00" stroke-width="8.19" opacity="0.9"/><use href="#b14" stroke="#600b00" stroke-width="7.28" opacity="0.9"/><use href="#b15" stroke="#600b00" stroke-width="7.28" opacity="0.9"/><use href="#b16" stroke="#400800" stroke-width="4.55" opacity="0.9"/><use href="#b17" stroke="#400800" stroke-width="4.55" opacity="0.9"/><use href="#b18" stroke="#400800" stroke-width="4.55" opacity="0.9"/><use href="#b19" stroke="#400800" stroke-width="4.55" opacity="0.9"/><use href="#b20" stroke="#400800" stroke-width="4.55" opacity="0.9"/><use href="#b21" stroke="#400800" stroke-width="4.55" opacity="0.9"/><use href="#b22" stroke="#600b00" stroke-width="3.64" opacity="0.9"/><use href="#b23" stroke="#400800" stroke-width="3.64" opacity="0.9"/><use href="#b24" stroke="#400800" stroke-width="3.64" opacity="0.9"/><use href="#b25" stroke="#a80e00" stroke-width="9.45" opacity="0.9"/><use href="#b26" stroke="#a80e00" stroke-width="10.39" opacity="0.9"/><use href="#b27" stroke="#8a0c00" stroke-width="3.64" opacity="0.9"/><use href="#b28" stroke="#8a0c00" stroke-width="4.55" opacity="0.9"/><use href="#b29" stroke="#8a0c00" stroke-width="4.55" opacity="0.9"/><use href="#b30" stroke="#8a0c00" stroke-width="7.28" opacity="0.9"/><use href="#b31" stroke="#a80e00" stroke-width="12.29" opacity="0.9"/><use href="#b32" stroke="#a80e00" stroke-width="9.45" opacity="0.9"/><use href="#b33" stroke="#a80e00" stroke-width="9.45" opacity="0.9"/><use href="#b34" stroke="#a80e00" stroke-width="9.45" opacity="0.9"/><use href="#b35" stroke="#a80e00" stroke-width="7.56" opacity="0.9"/><use href="#b36" stroke="#c02400" stroke-width="3.78" opacity="0.9"/><use href="#b37" stroke="#c02400" stroke-width="7.56" opacity="0.9"/><use href="#b38" stroke="#c02400" stroke-width="16.07" opacity="0.9"/><use href="#b39" stroke="#c02400" stroke-width="7.56" opacity="0.9"/><use href="#b40" stroke="#c02400" stroke-width="7.56" opacity="0.9"/><use href="#b41" stroke="#c02400" stroke-width="4.72" opacity="0.9"/><use href="#b42" stroke="#d04000" stroke-width="4.9" opacity="0.85"/><use href="#b43" stroke="#d04000" stroke-width="4.9" opacity="0.85"/><use href="#b44" stroke="#d04000" stroke-width="3.92" opacity="0.85"/><use href="#b45" stroke="#d04000" stroke-width="3.92" opacity="0.85"/><use href="#b46" stroke="#d04000" stroke-width="4.9" opacity="0.85"/><use href="#b47" stroke="#d04000" stroke-width="4.9" opacity="0.85"/><use href="#b48" stroke="#d04000" stroke-width="5.88" opacity="0.85"/><use href="#b49" stroke="#e05800" stroke-width="5.88" opacity="0.85"/><use href="#b50" stroke="#487800" stroke-width="3.43" opacity="0.75"/><use href="#b51" stroke="#d04000" stroke-width="3.43" opacity="0.85"/><use href="#b52" stroke="#487800" stroke-width="2.94" opacity="0.75"/><use href="#b53" stroke="#d04000" stroke-width="3.92" opacity="0.85"/><use href="#b54" stroke="#d04000" stroke-width="5.88" opacity="0.85"/><use href="#b55" stroke="#e05800" stroke-width="5.88" opacity="0.85"/><use href="#b56" stroke="#d04000" stroke-width="4.41" opacity="0.85"/><use href="#b57" stroke="#c02400" stroke-width="5.2" opacity="0.9"/><use href="#b58" stroke="#c02400" stroke-width="3.31" opacity="0.9"/><use href="#b59" stroke="#c02400" stroke-width="8.03" opacity="0.9"/><use href="#b60" stroke="#d04000" stroke-width="4.12" opacity="0.85"/><use href="#b61" stroke="#a80e00" stroke-width="7.09" opacity="0.9"/><use href="#b62" stroke="#a80e00" stroke-width="8.98" opacity="0.9"/><use href="#b63" stroke="#d04000" stroke-width="4.31" opacity="0.85"/><use href="#b64" stroke="#c02400" stroke-width="3.97" opacity="0.9"/><use href="#b65" stroke="#c02400" stroke-width="3.59" opacity="0.9"/><use href="#b66" stroke="#c02400" stroke-width="3.97" opacity="0.9"/><use href="#b67" stroke="#d04000" stroke-width="6.37" opacity="0.85"/><use href="#b68" stroke="#487800" stroke-width="3.43" opacity="0.75"/><use href="#b69" stroke="#d04000" stroke-width="3.53" opacity="0.85"/><use href="#b70" stroke="#d04000" stroke-width="4.12" opacity="0.85"/><use href="#b71" stroke="#487800" stroke-width="3.14" opacity="0.75"/><use href="#b72" stroke="#c02400" stroke-width="7.09" opacity="0.9"/><use href="#b73" stroke="#782200" stroke-width="4.55" opacity="0.8"/><use href="#b74" stroke="#c02400" stroke-width="8.5" opacity="0.9"/><use href="#b75" stroke="#d04000" stroke-width="4.41" opacity="0.85"/><use href="#b76" stroke="#d04000" stroke-width="4.41" opacity="0.85"/><use href="#b77" stroke="#c02400" stroke-width="4.25" opacity="0.9"/><use href="#b78" stroke="#c02400" stroke-width="4.25" opacity="0.9"/><use href="#b79" stroke="#c02400" stroke-width="4.25" opacity="0.9"/><use href="#b80" stroke="#d04000" stroke-width="4.41" opacity="0.85"/><use href="#b81" stroke="#c02400" stroke-width="4.25" opacity="0.9"/><use href="#b82" stroke="#c02400" stroke-width="4.25" opacity="0.9"/><use href="#b83" stroke="#c02400" stroke-width="4.25" opacity="0.9"/><use href="#b84" stroke="#c02400" stroke-width="4.25" opacity="0.9"/><use href="#b85" stroke="#d04000" stroke-width="4.41" opacity="0.85"/><use href="#b86" stroke="#c02400" stroke-width="3.78" opacity="0.9"/><use href="#b87" stroke="#c02400" stroke-width="3.78" opacity="0.9"/><ellipse cx="764" cy="48.5" rx="3.08" ry="2.52" fill="#0c6800" stroke="none" opacity="0.75"/></g>
<g filter="url(#vB1)" fill="none" stroke-linecap="round" stroke-linejoin="round" style="mix-blend-mode:screen"><use href="#b0" stroke="#600d00" stroke-width="3.43" opacity="0.7"/><use href="#b1" stroke="#600d00" stroke-width="3.43" opacity="0.7"/><use href="#b2" stroke="#600d00" stroke-width="2.45" opacity="0.7"/><use href="#b3" stroke="#a01600" stroke-width="4.2" opacity="0.8"/><use href="#b4" stroke="#600d00" stroke-width="2.94" opacity="0.7"/><use href="#b5" stroke="#a01600" stroke-width="2.62" opacity="0.8"/><use href="#b6" stroke="#600d00" stroke-width="2.45" opacity="0.7"/><use href="#b7" stroke="#c86000" stroke-width="2.94" opacity="0.8"/><use href="#b8" stroke="#c86000" stroke-width="1.96" opacity="0.8"/><use href="#b9" stroke="#7a6a00" stroke-width="0.98" opacity="0.8"/><use href="#b10" stroke="#7a6a00" stroke-width="0.98" opacity="0.8"/><use href="#b11" stroke="#a01600" stroke-width="4.72" opacity="0.8"/><use href="#b12" stroke="#a01600" stroke-width="1.57" opacity="0.8"/><use href="#b13" stroke="#a01600" stroke-width="4.72" opacity="0.8"/><use href="#b14" stroke="#a01600" stroke-width="4.2" opacity="0.8"/><use href="#b15" stroke="#a01600" stroke-width="4.2" opacity="0.8"/><use href="#b16" stroke="#600d00" stroke-width="2.45" opacity="0.7"/><use href="#b17" stroke="#600d00" stroke-width="2.45" opacity="0.7"/><use href="#b18" stroke="#600d00" stroke-width="2.45" opacity="0.7"/><use href="#b19" stroke="#600d00" stroke-width="2.45" opacity="0.7"/><use href="#b20" stroke="#600d00" stroke-width="2.45" opacity="0.7"/><use href="#b21" stroke="#600d00" stroke-width="2.45" opacity="0.7"/><use href="#b22" stroke="#a01600" stroke-width="2.1" opacity="0.8"/><use href="#b23" stroke="#600d00" stroke-width="1.96" opacity="0.7"/><use href="#b24" stroke="#600d00" stroke-width="1.96" opacity="0.7"/><use href="#b25" stroke="#f41c00" stroke-width="6.65" opacity="1"/><use href="#b26" stroke="#f41c00" stroke-width="7.31" opacity="1"/><use href="#b27" stroke="#dc1a00" stroke-width="2.24" opacity="0.9"/><use href="#b28" stroke="#dc1a00" stroke-width="2.8" opacity="0.9"/><use href="#b29" stroke="#dc1a00" stroke-width="2.8" opacity="0.9"/><use href="#b30" stroke="#dc1a00" stroke-width="4.48" opacity="0.9"/><use href="#b31" stroke="#f41c00" stroke-width="8.64" opacity="1"/><use href="#b32" stroke="#f41c00" stroke-width="6.65" opacity="1"/><use href="#b33" stroke="#f41c00" stroke-width="6.65" opacity="1"/><use href="#b34" stroke="#f41c00" stroke-width="6.65" opacity="1"/><use href="#b35" stroke="#f41c00" stroke-width="5.32" opacity="1"/><use href="#b36" stroke="#ff5600" stroke-width="2.66" opacity="1"/><use href="#b37" stroke="#ff5600" stroke-width="5.32" opacity="1"/><use href="#b38" stroke="#ff5600" stroke-width="11.3" opacity="1"/><use href="#b39" stroke="#ff5600" stroke-width="5.32" opacity="1"/><use href="#b40" stroke="#ff5600" stroke-width="5.32" opacity="1"/><use href="#b41" stroke="#ff5600" stroke-width="3.32" opacity="1"/><use href="#b42" stroke="#ff9800" stroke-width="3.5" opacity="1"/><use href="#b43" stroke="#ff9800" stroke-width="3.5" opacity="1"/><use href="#b44" stroke="#ff9800" stroke-width="2.8" opacity="1"/><use href="#b45" stroke="#ff9800" stroke-width="2.8" opacity="1"/><use href="#b46" stroke="#ff9800" stroke-width="3.5" opacity="1"/><use href="#b47" stroke="#ff9800" stroke-width="3.5" opacity="1"/><use href="#b48" stroke="#ff9800" stroke-width="4.2" opacity="1"/><use href="#b49" stroke="#ffc400" stroke-width="4.2" opacity="1"/><use href="#b50" stroke="#a8e800" stroke-width="2.33" opacity="1"/><use href="#b51" stroke="#ff9800" stroke-width="2.45" opacity="1"/><use href="#b52" stroke="#a8e800" stroke-width="1.99" opacity="1"/><use href="#b53" stroke="#ff9800" stroke-width="2.8" opacity="1"/><use href="#b54" stroke="#ff9800" stroke-width="4.2" opacity="1"/><use href="#b55" stroke="#ffc400" stroke-width="4.2" opacity="1"/><use href="#b56" stroke="#ff9800" stroke-width="3.15" opacity="1"/><use href="#b57" stroke="#ff5600" stroke-width="3.66" opacity="1"/><use href="#b58" stroke="#ff5600" stroke-width="2.33" opacity="1"/><use href="#b59" stroke="#ff5600" stroke-width="5.65" opacity="1"/><use href="#b60" stroke="#ff9800" stroke-width="2.94" opacity="1"/><use href="#b61" stroke="#f41c00" stroke-width="4.99" opacity="1"/><use href="#b62" stroke="#f41c00" stroke-width="6.32" opacity="1"/><use href="#b63" stroke="#ff9800" stroke-width="3.08" opacity="1"/><use href="#b64" stroke="#ff5600" stroke-width="2.79" opacity="1"/><use href="#b65" stroke="#ff5600" stroke-width="2.53" opacity="1"/><use href="#b66" stroke="#ff5600" stroke-width="2.79" opacity="1"/><use href="#b67" stroke="#ff9800" stroke-width="4.55" opacity="1"/><use href="#b68" stroke="#a8e800" stroke-width="2.33" opacity="1"/><use href="#b69" stroke="#ff9800" stroke-width="2.52" opacity="1"/><use href="#b70" stroke="#ff9800" stroke-width="2.94" opacity="1"/><use href="#b71" stroke="#a8e800" stroke-width="2.13" opacity="1"/><use href="#b72" stroke="#ff5600" stroke-width="4.99" opacity="1"/><use href="#b73" stroke="#c86000" stroke-width="2.45" opacity="0.8"/><use href="#b74" stroke="#ff5600" stroke-width="5.98" opacity="1"/><use href="#b75" stroke="#ff9800" stroke-width="3.15" opacity="1"/><use href="#b76" stroke="#ff9800" stroke-width="3.15" opacity="1"/><use href="#b77" stroke="#ff5600" stroke-width="2.99" opacity="1"/><use href="#b78" stroke="#ff5600" stroke-width="2.99" opacity="1"/><use href="#b79" stroke="#ff5600" stroke-width="2.99" opacity="1"/><use href="#b80" stroke="#ff9800" stroke-width="3.15" opacity="1"/><use href="#b81" stroke="#ff5600" stroke-width="2.99" opacity="1"/><use href="#b82" stroke="#ff5600" stroke-width="2.99" opacity="1"/><use href="#b83" stroke="#ff5600" stroke-width="2.99" opacity="1"/><use href="#b84" stroke="#ff5600" stroke-width="2.99" opacity="1"/><use href="#b85" stroke="#ff9800" stroke-width="3.15" opacity="1"/><use href="#b86" stroke="#ff5600" stroke-width="2.66" opacity="1"/><use href="#b87" stroke="#ff5600" stroke-width="2.66" opacity="1"/><ellipse cx="764" cy="48.5" rx="1.98" ry="1.62" fill="#34e400" stroke="none" opacity="1"/></g>
<g filter="url(#vB2)" fill="none" stroke-linecap="round" stroke-linejoin="round" style="mix-blend-mode:screen"><use href="#b25" stroke="#ff4818" stroke-width="2.94" opacity="0.5"/><use href="#b26" stroke="#ff4818" stroke-width="3.23" opacity="0.5"/><use href="#b31" stroke="#ff4818" stroke-width="3.82" opacity="0.5"/><use href="#b32" stroke="#ff4818" stroke-width="2.94" opacity="0.5"/><use href="#b33" stroke="#ff4818" stroke-width="2.94" opacity="0.5"/><use href="#b34" stroke="#ff4818" stroke-width="2.94" opacity="0.5"/><use href="#b35" stroke="#ff4818" stroke-width="2.35" opacity="0.5"/><use href="#b36" stroke="#ffa800" stroke-width="1.26" opacity="0.9"/><use href="#b37" stroke="#ffa800" stroke-width="2.52" opacity="0.9"/><use href="#b38" stroke="#ffa800" stroke-width="5.35" opacity="0.9"/><use href="#b39" stroke="#ffa800" stroke-width="2.52" opacity="0.9"/><use href="#b40" stroke="#ffa800" stroke-width="2.52" opacity="0.9"/><use href="#b41" stroke="#ffa800" stroke-width="1.57" opacity="0.9"/><use href="#b42" stroke="#fff200" stroke-width="1.92" opacity="1"/><use href="#b43" stroke="#fff200" stroke-width="1.92" opacity="1"/><use href="#b44" stroke="#fff200" stroke-width="1.54" opacity="1"/><use href="#b45" stroke="#fff200" stroke-width="1.54" opacity="1"/><use href="#b46" stroke="#fff200" stroke-width="1.92" opacity="1"/><use href="#b47" stroke="#fff200" stroke-width="1.92" opacity="1"/><use href="#b48" stroke="#fff200" stroke-width="2.31" opacity="1"/><use href="#b49" stroke="#ffff50" stroke-width="2.52" opacity="1"/><use href="#b50" stroke="#dcff30" stroke-width="1.1" opacity="0.9"/><use href="#b51" stroke="#fff200" stroke-width="1.35" opacity="1"/><use href="#b52" stroke="#dcff30" stroke-width="0.94" opacity="0.9"/><use href="#b53" stroke="#fff200" stroke-width="1.54" opacity="1"/><use href="#b54" stroke="#fff200" stroke-width="2.31" opacity="1"/><use href="#b55" stroke="#ffff50" stroke-width="2.52" opacity="1"/><use href="#b56" stroke="#fff200" stroke-width="1.73" opacity="1"/><use href="#b57" stroke="#ffa800" stroke-width="1.73" opacity="0.9"/><use href="#b58" stroke="#ffa800" stroke-width="1.1" opacity="0.9"/><use href="#b59" stroke="#ffa800" stroke-width="2.68" opacity="0.9"/><use href="#b60" stroke="#fff200" stroke-width="1.62" opacity="1"/><use href="#b61" stroke="#ff4818" stroke-width="2.2" opacity="0.5"/><use href="#b62" stroke="#ff4818" stroke-width="2.79" opacity="0.5"/><use href="#b63" stroke="#fff200" stroke-width="1.69" opacity="1"/><use href="#b64" stroke="#ffa800" stroke-width="1.32" opacity="0.9"/><use href="#b65" stroke="#ffa800" stroke-width="1.2" opacity="0.9"/><use href="#b66" stroke="#ffa800" stroke-width="1.32" opacity="0.9"/><use href="#b67" stroke="#fff200" stroke-width="2.5" opacity="1"/><use href="#b68" stroke="#dcff30" stroke-width="1.1" opacity="0.9"/><use href="#b69" stroke="#fff200" stroke-width="1.39" opacity="1"/><use href="#b70" stroke="#fff200" stroke-width="1.62" opacity="1"/><use href="#b71" stroke="#dcff30" stroke-width="1.01" opacity="0.9"/><use href="#b72" stroke="#ffa800" stroke-width="2.36" opacity="0.9"/><use href="#b74" stroke="#ffa800" stroke-width="2.83" opacity="0.9"/><use href="#b75" stroke="#fff200" stroke-width="1.73" opacity="1"/><use href="#b76" stroke="#fff200" stroke-width="1.73" opacity="1"/><use href="#b77" stroke="#ffa800" stroke-width="1.42" opacity="0.9"/><use href="#b78" stroke="#ffa800" stroke-width="1.42" opacity="0.9"/><use href="#b79" stroke="#ffa800" stroke-width="1.42" opacity="0.9"/><use href="#b80" stroke="#fff200" stroke-width="1.73" opacity="1"/><use href="#b81" stroke="#ffa800" stroke-width="1.42" opacity="0.9"/><use href="#b82" stroke="#ffa800" stroke-width="1.42" opacity="0.9"/><use href="#b83" stroke="#ffa800" stroke-width="1.42" opacity="0.9"/><use href="#b84" stroke="#ffa800" stroke-width="1.42" opacity="0.9"/><use href="#b85" stroke="#fff200" stroke-width="1.73" opacity="1"/><use href="#b86" stroke="#ffa800" stroke-width="1.26" opacity="0.9"/><use href="#b87" stroke="#ffa800" stroke-width="1.26" opacity="0.9"/><ellipse cx="764" cy="48.5" rx="0.88" ry="0.72" fill="#88ff48" stroke="none" opacity="0.7"/></g>
<path d="M505 256.9V310.8H557" fill="none" stroke="#fff" stroke-width="3.2"/>
<path d="M494 89h4M494 175h4M494 260.8h4M937 89h4M937 175h4M937 260.8h4" stroke="#888" stroke-width="1.2"/>
</g>
<g id="panel-c">
<path d="M97 534.2C98.47 533.82 103.45 531.32 105.8 531.9C108.15 532.48 109.35 536.15 111.1 537.7C112.85 539.25 114.55 541.48 116.3 541.2C118.05 540.92 119.85 539.35 121.6 536C123.35 532.65 124.9 525.5 126.8 521.1C128.7 516.7 131.1 511.95 133 509.6C134.9 507.25 136.15 507 138.2 507C140.25 507 143.25 507.55 145.3 509.6C147.35 511.65 148.6 517.25 150.5 519.3C152.4 521.35 154.5 520.3 156.7 521.9C158.9 523.5 161.8 525.82 163.7 528.9C165.6 531.98 166.63 536.45 168.1 540.4C169.57 544.35 170.9 548.52 172.5 552.6C174.1 556.68 175.67 561.38 177.7 564.9C179.73 568.42 181.48 571.07 184.7 573.7C187.92 576.33 193.48 578.37 197 580.7C200.52 583.03 202.58 585.5 205.8 587.7C209.02 589.9 212.2 592.15 216.3 593.9C220.4 595.65 226.6 596.65 230.4 598.2C234.2 599.75 234.72 602.02 239.1 603.2C243.48 604.38 251.55 604.6 256.7 605.3C261.85 606 266.03 606.58 270 607.4C273.97 608.22 277 609.68 280.5 610.2C284 610.72 287.48 609.87 291 610.5C294.52 611.13 298.37 612.77 301.6 614C304.83 615.23 307.77 616.43 310.4 617.9C313.03 619.37 314.78 621.45 317.4 622.8C320.02 624.15 323.03 625.27 326.1 626C329.17 626.73 333.6 627.43 335.8 627.2C338 626.97 338.13 627.08 339.3 624.6C340.47 622.12 341.63 618.45 342.8 612.3C343.97 606.15 345.13 597.65 346.3 587.7C347.47 577.75 348.63 564.3 349.8 552.6C350.97 540.9 352.27 526.85 353.3 517.5C354.33 508.15 354.97 505.85 356 496.5C357.03 487.15 358.18 472.52 359.5 461.4C360.82 450.28 362.58 437.55 363.9 429.8C365.22 422.05 366.23 418.27 367.4 414.9C368.57 411.53 369.58 409.17 370.9 409.6C372.22 410.03 373.4 413.98 375.3 417.5C377.2 421.02 379.97 427.03 382.3 430.7C384.63 434.37 386.38 437.88 389.3 439.5C392.22 441.12 397.17 439.53 399.8 440.4C402.43 441.27 403.33 442.67 405.1 444.7C406.87 446.73 408.35 450.12 410.4 452.6C412.45 455.08 415.07 457.98 417.4 459.6C419.73 461.22 422.07 460.98 424.4 462.3C426.73 463.62 429.35 466.33 431.4 467.5C433.45 468.67 434.37 469.43 436.7 469.3C439.03 469.17 442.77 467 445.4 466.7C448.03 466.4 450.45 466.98 452.5 467.5C454.55 468.02 456.83 469.42 457.7 469.8" fill="none" stroke="#0d72bd" stroke-width="3" stroke-linejoin="round" stroke-linecap="butt"/>
<path d="M97 443C97.88 442.42 100.55 440.47 102.3 439.5C104.05 438.53 105.75 437.12 107.5 437.2C109.25 437.28 110.9 439.42 112.8 440C114.7 440.58 117 441.52 118.9 440.7C120.8 439.88 122.43 437.2 124.2 435.1C125.97 433 127.6 430 129.5 428.1C131.4 426.2 133.27 424.73 135.6 423.7C137.93 422.67 141.17 421.82 143.5 421.9C145.83 421.98 147.55 424.2 149.6 424.2C151.65 424.2 154.03 421.4 155.8 421.9C157.57 422.4 158.88 425.58 160.2 427.2C161.52 428.82 162.53 428.82 163.7 431.6C164.87 434.38 165.73 439.52 167.2 443.9C168.67 448.28 170.75 453.37 172.5 457.9C174.25 462.43 175.67 467 177.7 471.1C179.73 475.2 181.77 479.43 184.7 482.5C187.63 485.57 191.78 487.02 195.3 489.5C198.82 491.98 202.3 494.77 205.8 497.4C209.3 500.03 213.08 502.82 216.3 505.3C219.52 507.78 222.47 509.67 225.1 512.3C227.73 514.93 229.47 518.77 232.1 521.1C234.73 523.43 237.38 524.4 240.9 526.3C244.42 528.2 249.12 531.18 253.2 532.5C257.28 533.82 261.32 533.18 265.4 534.2C269.48 535.22 273.43 537.33 277.7 538.6C281.97 539.87 287.02 540.2 291 541.8C294.98 543.4 298.37 545.95 301.6 548.2C304.83 550.45 307.77 552.95 310.4 555.3C313.03 557.65 314.78 560.35 317.4 562.3C320.02 564.25 323.03 565.92 326.1 567C329.17 568.08 333.6 569.15 335.8 568.8C338 568.45 338.28 569.05 339.3 564.9C340.32 560.75 341.02 551.2 341.9 543.9C342.78 536.6 343.57 528.42 344.6 521.1C345.63 513.78 347.08 505.57 348.1 500C349.12 494.43 349.38 495.6 350.7 487.7C352.02 479.8 354.25 462.83 356 452.6C357.75 442.37 359.45 432.87 361.2 426.3C362.95 419.73 364.88 415.98 366.5 413.2C368.12 410.42 368.85 409.52 370.9 409.6C372.95 409.68 376.32 412.47 378.8 413.7C381.28 414.93 383.47 416.42 385.8 417C388.13 417.58 390.17 417.35 392.8 417.2C395.43 417.05 398.97 415.6 401.6 416.1C404.23 416.6 406.27 418.93 408.6 420.2C410.93 421.47 413.27 423.27 415.6 423.7C417.93 424.13 420.27 422.37 422.6 422.8C424.93 423.23 427.25 425.13 429.6 426.3C431.95 427.47 434.07 429.5 436.7 429.8C439.33 430.1 442.77 428.45 445.4 428.1C448.03 427.75 450.45 427.65 452.5 427.7C454.55 427.75 456.83 428.28 457.7 428.4" fill="none" stroke="#d9541a" stroke-width="3" stroke-linejoin="round" stroke-linecap="butt"/>
<path d="M97 472.3C98.47 471.73 103.17 468.67 105.8 468.9C108.43 469.13 110.47 472.97 112.8 473.7C115.13 474.43 117.75 474.77 119.8 473.3C121.85 471.83 123.05 467.9 125.1 464.9C127.15 461.9 130.05 457.43 132.1 455.3C134.15 453.17 135.35 452.55 137.4 452.1C139.45 451.65 142.37 451.72 144.4 452.6C146.43 453.48 147.7 456.67 149.6 457.4C151.5 458.13 153.75 456.33 155.8 457C157.85 457.67 160 458.33 161.9 461.4C163.8 464.47 165.43 470.43 167.2 475.4C168.97 480.37 170.75 486.52 172.5 491.2C174.25 495.88 175.67 500.13 177.7 503.5C179.73 506.87 181.77 508.92 184.7 511.4C187.63 513.88 190.62 515.18 195.3 518.4C199.98 521.62 206.37 526.45 212.8 530.7C219.23 534.95 226.88 540.38 233.9 543.9C240.92 547.42 248.88 549.82 254.9 551.8C260.92 553.78 265.73 554.73 270 555.8C274.27 556.87 277 557.57 280.5 558.2C284 558.83 287.48 558.48 291 559.6C294.52 560.72 298.37 563.13 301.6 564.9C304.83 566.67 307.77 568.3 310.4 570.2C313.03 572.1 314.78 574.7 317.4 576.3C320.02 577.9 323.03 579 326.1 579.8C329.17 580.6 333.6 581.53 335.8 581.1C338 580.67 338.18 580.72 339.3 577.2C340.42 573.68 341.3 567.53 342.5 560C343.7 552.47 345.17 541.5 346.5 532C347.83 522.5 349.25 511.67 350.5 503C351.75 494.33 352.8 488.4 354 480C355.2 471.6 356.35 461.25 357.7 452.6C359.05 443.95 360.63 434.53 362.1 428.1C363.57 421.67 365.03 417.08 366.5 414C367.97 410.92 369.15 409.3 370.9 409.6C372.65 409.9 374.82 413.3 377 415.8C379.18 418.3 381.67 422.62 384 424.6C386.33 426.58 388.22 427.12 391 427.7C393.78 428.28 398.07 427.17 400.7 428.1C403.33 429.03 404.6 431.4 406.8 433.3C409 435.2 411.27 438.03 413.9 439.5C416.53 440.97 419.98 441.08 422.6 442.1C425.22 443.12 427.25 444.58 429.6 445.6C431.95 446.62 434.07 448.13 436.7 448.2C439.33 448.27 442.77 446.28 445.4 446C448.03 445.72 450.45 446.27 452.5 446.5C454.55 446.73 456.83 447.25 457.7 447.4" fill="none" stroke="#edb022" stroke-width="3" stroke-linejoin="round" stroke-linecap="butt"/>
<line x1="95.6" y1="410.3" x2="95.6" y2="658.8" stroke="#000" stroke-width="2"/>
<line x1="95.6" y1="411.3" x2="99.6" y2="411.3" stroke="#000" stroke-width="2"/>
<line x1="95.6" y1="493.5" x2="99.6" y2="493.5" stroke="#000" stroke-width="2"/>
<line x1="95.6" y1="575.7" x2="99.6" y2="575.7" stroke="#000" stroke-width="2"/>
<line x1="94.6" y1="657.8" x2="458.4" y2="657.8" stroke="#000" stroke-width="2"/>
<line x1="215" y1="657.8" x2="215" y2="653.2" stroke="#000" stroke-width="2"/>
<line x1="336" y1="657.8" x2="336" y2="653.2" stroke="#000" stroke-width="2"/>
<line x1="457.4" y1="657.8" x2="457.4" y2="653.2" stroke="#000" stroke-width="2"/>
<line x1="381.4" y1="510.5" x2="423.5" y2="510.5" stroke="#0d72bd" stroke-width="3.6"/>
<line x1="381.4" y1="537.4" x2="423.5" y2="537.4" stroke="#d9541a" stroke-width="3.6"/>
<line x1="381.4" y1="562.3" x2="423.5" y2="562.3" stroke="#edb022" stroke-width="3.6"/>
</g>
<g id="panel-d">
<path d="M602.4 534C602.92 531.85 603.82 524.72 605.5 521.1C607.18 517.48 610.73 516.12 612.5 512.3C614.27 508.48 614.78 502 616.1 498.2C617.42 494.4 618.37 490.72 620.4 489.5C622.43 488.28 625.22 491.48 628.3 490.9C631.38 490.32 635.68 487.85 638.9 486C642.12 484.15 644.98 482.43 647.6 479.8C650.22 477.17 652.25 474.43 654.6 470.2C656.95 465.97 659.35 458.93 661.7 454.4C664.05 449.87 666.65 445.33 668.7 443C670.75 440.67 672.25 439.82 674 440.4C675.75 440.98 676.87 444.67 679.2 446.5C681.53 448.33 684.48 450.03 688 451.4C691.52 452.77 696.5 453.18 700.3 454.7C704.1 456.22 707.3 457.92 710.8 460.5C714.3 463.08 717.8 467.65 721.3 470.2C724.8 472.75 727.7 474.1 731.8 475.8C735.9 477.5 741.8 478.57 745.9 480.4C750 482.23 752.6 485 756.4 486.8C760.2 488.6 766.07 489.93 768.7 491.2C771.33 492.47 770.32 493.95 772.2 494.4C774.08 494.85 776.37 493.98 780 493.9C783.63 493.82 791.08 494.2 794 493.9C796.92 493.6 795.45 491.97 797.5 492.1C799.55 492.23 803.08 493.68 806.3 494.7C809.52 495.72 813.28 496.73 816.8 498.2C820.32 499.67 823.6 502.38 827.4 503.5C831.2 504.62 836.68 505.48 839.6 504.9C842.52 504.32 843.13 503.73 844.9 500C846.67 496.27 848.45 489.52 850.2 482.5C851.95 475.48 853.65 466.38 855.4 457.9C857.15 449.42 859.23 438.33 860.7 431.6C862.17 424.87 862.88 420.72 864.2 417.5C865.52 414.28 867.13 412.88 868.6 412.3C870.07 411.72 871.4 411.95 873 414C874.6 416.05 876.45 420.5 878.2 424.6C879.95 428.7 881.73 433.63 883.5 438.6C885.27 443.57 887.05 449.43 888.8 454.4C890.55 459.37 892.38 463.72 894 468.4C895.62 473.08 897.03 477.65 898.5 482.5C899.97 487.35 900.92 492.07 902.8 497.5C904.68 502.93 907.17 509.6 909.8 515.1C912.43 520.6 915.38 525.82 918.6 530.5C921.82 535.18 925.6 539.33 929.1 543.2C932.6 547.07 936.38 550.93 939.6 553.7C942.82 556.47 945.62 558.33 948.4 559.8C951.18 561.27 954.98 562.05 956.3 562.5" fill="none" stroke="#0d72bd" stroke-width="3" stroke-linejoin="round" stroke-linecap="butt"/>
<path d="M601.1 526.3C601.83 522.8 603.6 512.32 605.5 505.3C607.4 498.28 610.45 490.93 612.5 484.2C614.55 477.47 616.03 469.28 617.8 464.9C619.57 460.52 621.05 459.42 623.1 457.9C625.15 456.38 627.77 455.95 630.1 455.8C632.43 455.65 634.77 455.48 637.1 457C639.43 458.52 641.47 462.42 644.1 464.9C646.73 467.38 649.97 468.97 652.9 471.9C655.83 474.83 659.07 478.98 661.7 482.5C664.33 486.02 666.65 490.08 668.7 493C670.75 495.92 672.25 496.5 674 500C675.75 503.5 677.17 509 679.2 514C681.23 519 683.57 525.28 686.2 530C688.83 534.72 692.37 537.62 695 542.3C697.63 546.98 699.37 552.55 702 558.1C704.63 563.65 707.87 570.48 710.8 575.6C713.73 580.72 716.38 585.87 719.6 588.8C722.82 591.73 726.6 591.75 730.1 593.2C733.6 594.65 737.38 595.32 740.6 597.5C743.82 599.68 746.47 603.37 749.4 606.3C752.33 609.23 754.98 613.2 758.2 615.1C761.42 617 765.48 615.95 768.7 617.7C771.92 619.45 774.53 621.47 777.5 625.6C780.47 629.73 783.75 638.28 786.5 642.5C789.25 646.72 791.43 649.22 794 650.9C796.57 652.58 799.27 652.75 801.9 652.6C804.53 652.45 807.02 651.6 809.8 650C812.58 648.4 815.82 644.6 818.6 643C821.38 641.4 823.87 640.4 826.5 640.4C829.13 640.4 832.22 642.13 834.4 643C836.58 643.87 838.13 646.18 839.6 645.6C841.07 645.02 842.02 643.73 843.2 639.5C844.38 635.27 845.53 627.8 846.7 620.2C847.87 612.6 849.03 602.68 850.2 593.9C851.37 585.12 852.53 577.72 853.7 567.5C854.87 557.28 856.03 544.18 857.2 532.6C858.37 521.02 859.73 507.1 860.7 498C861.67 488.9 862.12 484.1 863 478C863.88 471.9 864.77 469.13 866 461.4C867.23 453.67 868.95 438.92 870.4 431.6C871.85 424.28 873.1 420.72 874.7 417.5C876.3 414.28 878.23 412.93 880 412.3C881.77 411.67 882.97 412.97 885.3 413.7C887.63 414.43 891.67 414.6 894 416.7C896.33 418.8 897.53 423.82 899.3 426.3C901.07 428.78 902.85 430.13 904.6 431.6C906.35 433.07 907.77 432.77 909.8 435.1C911.83 437.43 914.45 442.82 916.8 445.6C919.15 448.38 921.55 449.32 923.9 451.8C926.25 454.28 928.57 457.28 930.9 460.5C933.23 463.72 935.57 468.9 937.9 471.1C940.23 473.3 942.85 472.53 944.9 473.7C946.95 474.87 948.3 477.23 950.2 478.1C952.1 478.97 955.28 478.77 956.3 478.9" fill="none" stroke="#d9541a" stroke-width="3" stroke-linejoin="round" stroke-linecap="butt"/>
<path d="M600.3 521.1C601.17 518.47 603.47 510.28 605.5 505.3C607.53 500.32 610.45 496.47 612.5 491.2C614.55 485.93 616.33 477.65 617.8 473.7C619.27 469.75 618.67 468.9 621.3 467.5C623.93 466.1 630.08 465.3 633.6 465.3C637.12 465.3 639.77 466.53 642.4 467.5C645.03 468.47 647.07 471.38 649.4 471.1C651.73 470.82 653.77 466.88 656.4 465.8C659.03 464.72 662.27 464.45 665.2 464.6C668.13 464.75 671.37 464.02 674 466.7C676.63 469.38 677.8 475.88 681 480.7C684.2 485.52 688.82 490.05 693.2 495.6C697.58 501.15 702.62 508.18 707.3 514C711.98 519.82 716.62 526.95 721.3 530.5C725.98 534.05 731.02 533.48 735.4 535.3C739.78 537.12 743.8 538.78 747.6 541.4C751.4 544.02 754.68 548.8 758.2 551C761.72 553.2 764.9 552.77 768.7 554.6C772.5 556.43 777.95 559.52 781 562C784.05 564.48 784.83 567.52 787 569.5C789.17 571.48 791.37 572.88 794 573.9C796.63 574.92 799.58 575.9 802.8 575.6C806.02 575.3 809.78 572.77 813.3 572.1C816.82 571.43 820.68 571.3 823.9 571.6C827.12 571.9 829.98 573.15 832.6 573.9C835.22 574.65 837.7 576.83 839.6 576.1C841.5 575.37 842.68 573.23 844 569.5C845.32 565.77 846.18 561.12 847.5 553.7C848.82 546.28 850.58 534.37 851.9 525C853.22 515.63 854.37 505 855.4 497.5C856.43 490 856.92 487.48 858.1 480C859.28 472.52 860.9 461.83 862.5 452.6C864.1 443.37 865.95 431.17 867.7 424.6C869.45 418.03 871.38 415.25 873 413.2C874.62 411.15 875.65 411.28 877.4 412.3C879.15 413.32 881.6 416.67 883.5 419.3C885.4 421.93 887.05 425.47 888.8 428.1C890.55 430.73 892.25 431.6 894 435.1C895.75 438.6 897.25 444.72 899.3 449.1C901.35 453.48 903.97 457.6 906.3 461.4C908.63 465.2 910.95 468.25 913.3 471.9C915.65 475.55 917.77 479.63 920.4 483.3C923.03 486.97 926.18 490.53 929.1 493.9C932.02 497.27 934.97 500.78 937.9 503.5C940.83 506.22 943.63 508.73 946.7 510.2C949.77 511.67 954.7 511.95 956.3 512.3" fill="none" stroke="#edb022" stroke-width="3" stroke-linejoin="round" stroke-linecap="butt"/>
<line x1="602.2" y1="412.2" x2="602.2" y2="658.6" stroke="#000" stroke-width="2"/>
<line x1="602.2" y1="413.2" x2="606.2" y2="413.2" stroke="#000" stroke-width="2"/>
<line x1="602.2" y1="494" x2="606.2" y2="494" stroke="#000" stroke-width="2"/>
<line x1="602.2" y1="577" x2="606.2" y2="577" stroke="#000" stroke-width="2"/>
<line x1="601.2" y1="657.6" x2="957.6" y2="657.6" stroke="#000" stroke-width="2"/>
<line x1="719.9" y1="657.6" x2="719.9" y2="653" stroke="#000" stroke-width="2"/>
<line x1="838.2" y1="657.6" x2="838.2" y2="653" stroke="#000" stroke-width="2"/>
</g>
<g id="panel-e">
<rect x="1145.4" y="221.5" width="27.4" height="49.1" fill="#fff" stroke="#555" stroke-width="1.4"/>
<line x1="1144.7" y1="269.5" x2="1173.5" y2="269.5" stroke="#151515" stroke-width="1.6"/>
<rect x="1189" y="158.7" width="27.3" height="111.9" fill="#808080" stroke="#444" stroke-width="1.4"/>
<line x1="1188.3" y1="269.5" x2="1217" y2="269.5" stroke="#151515" stroke-width="1.6"/>
<rect x="1261.2" y="240.7" width="26.4" height="29.9" fill="#fff" stroke="#555" stroke-width="1.4"/>
<line x1="1260.5" y1="269.5" x2="1288.3" y2="269.5" stroke="#151515" stroke-width="1.6"/>
<rect x="1304.3" y="167.4" width="26.9" height="103.2" fill="#808080" stroke="#444" stroke-width="1.4"/>
<line x1="1303.6" y1="269.5" x2="1331.9" y2="269.5" stroke="#151515" stroke-width="1.6"/>
<rect x="1376" y="206.6" width="27.2" height="64" fill="#fff" stroke="#555" stroke-width="1.4"/>
<line x1="1375.3" y1="269.5" x2="1403.9" y2="269.5" stroke="#151515" stroke-width="1.6"/>
<rect x="1419.7" y="151.3" width="27.5" height="119.3" fill="#808080" stroke="#444" stroke-width="1.4"/>
<line x1="1419" y1="269.5" x2="1447.9" y2="269.5" stroke="#151515" stroke-width="1.6"/>
<line x1="1116" y1="34.1" x2="1116" y2="269.8" stroke="#000" stroke-width="2"/>
<line x1="1105.6" y1="35.1" x2="1116" y2="35.1" stroke="#000" stroke-width="2"/>
<line x1="1105.6" y1="93.5" x2="1116" y2="93.5" stroke="#000" stroke-width="2"/>
<line x1="1105.6" y1="152" x2="1116" y2="152" stroke="#000" stroke-width="2"/>
<line x1="1105.6" y1="210.3" x2="1116" y2="210.3" stroke="#000" stroke-width="2"/>
<line x1="1105.6" y1="268.8" x2="1462.6" y2="268.8" stroke="#000" stroke-width="2.2"/>
<line x1="1180.9" y1="268.8" x2="1180.9" y2="278.5" stroke="#000" stroke-width="2"/>
<line x1="1295.4" y1="268.8" x2="1295.4" y2="278.5" stroke="#000" stroke-width="2"/>
<line x1="1411.2" y1="268.8" x2="1411.2" y2="278.5" stroke="#000" stroke-width="2"/>
<path d="M1151.9 205.3H1165.5M1158.7 205.3V237M1151.9 237H1165.5" stroke="#000" stroke-width="2.2" fill="none"/>
<path d="M1195.9 137.5H1209.5M1202.7 137.5V178.5M1195.9 178.5H1209.5" stroke="#000" stroke-width="2.2" fill="none"/>
<path d="M1267.5 231H1281.1M1274.3 231V246M1267.5 246H1281.1" stroke="#000" stroke-width="2.2" fill="none"/>
<path d="M1310.7 146.6H1324.3M1317.5 146.6V188M1310.7 188H1324.3" stroke="#000" stroke-width="2.2" fill="none"/>
<path d="M1382.4 182.5H1396M1389.2 182.5V230M1382.4 230H1396" stroke="#000" stroke-width="2.2" fill="none"/>
<path d="M1426.3 131.8H1439.9M1433.1 131.8V169.5M1426.3 169.5H1439.9" stroke="#000" stroke-width="2.2" fill="none"/>
<circle cx="1158.5" cy="196.3" r="3.85"/><circle cx="1154.6" cy="205.3" r="3.85"/><circle cx="1162.7" cy="205.3" r="3.85"/><circle cx="1161.9" cy="219.5" r="3.85"/><circle cx="1147.9" cy="226.4" r="3.85"/><circle cx="1155" cy="225.5" r="3.85"/><circle cx="1161.9" cy="228.8" r="3.85"/><circle cx="1169.3" cy="225.5" r="3.85"/><circle cx="1154.6" cy="237" r="3.85"/><circle cx="1162.7" cy="237" r="3.85"/>
<circle cx="1202.2" cy="121.7" r="3.85"/><circle cx="1191.6" cy="145.1" r="3.85"/><circle cx="1212.9" cy="146.3" r="3.85"/><circle cx="1205.6" cy="146.8" r="3.85"/><circle cx="1198.8" cy="151" r="3.85"/><circle cx="1205.6" cy="154.8" r="3.85"/><circle cx="1205.6" cy="167.8" r="3.85"/><circle cx="1198.8" cy="174" r="3.85"/><circle cx="1205.6" cy="177.4" r="3.85"/><circle cx="1202.2" cy="192.5" r="3.85"/>
<circle cx="1269" cy="224" r="3.85"/><circle cx="1279.8" cy="228" r="3.85"/><circle cx="1274.1" cy="229.1" r="3.85"/><circle cx="1263.4" cy="235.3" r="3.85"/><circle cx="1284.9" cy="236.5" r="3.85"/><circle cx="1268.5" cy="238.7" r="3.85"/><circle cx="1274.1" cy="239.9" r="3.85"/><circle cx="1279.8" cy="238.7" r="3.85"/><circle cx="1263.4" cy="245" r="3.85"/><circle cx="1284.9" cy="245" r="3.85"/>
<circle cx="1317.4" cy="127.8" r="3.85"/><circle cx="1307" cy="155.9" r="3.85"/><circle cx="1311.5" cy="159.3" r="3.85"/><circle cx="1317.4" cy="161" r="3.85"/><circle cx="1322.9" cy="159.3" r="3.85"/><circle cx="1328" cy="157" r="3.85"/><circle cx="1312.1" cy="177.4" r="3.85"/><circle cx="1317.4" cy="182.5" r="3.85"/><circle cx="1322.9" cy="181.4" r="3.85"/><circle cx="1317.4" cy="200.8" r="3.85"/>
<circle cx="1388.9" cy="168.9" r="3.85"/><circle cx="1385" cy="182.5" r="3.85"/><circle cx="1393" cy="182.5" r="3.85"/><circle cx="1388.9" cy="203.4" r="3.85"/><circle cx="1378.7" cy="213.8" r="3.85"/><circle cx="1392.9" cy="213.2" r="3.85"/><circle cx="1399.7" cy="213.2" r="3.85"/><circle cx="1385.5" cy="219.7" r="3.85"/><circle cx="1385" cy="230.2" r="3.85"/><circle cx="1392.9" cy="230.2" r="3.85"/>
<circle cx="1432.6" cy="114.8" r="3.85"/><circle cx="1443.9" cy="140" r="3.85"/><circle cx="1422.9" cy="142.3" r="3.85"/><circle cx="1429.7" cy="140" r="3.85"/><circle cx="1436.5" cy="145.1" r="3.85"/><circle cx="1429.7" cy="148.5" r="3.85"/><circle cx="1436.5" cy="162.1" r="3.85"/><circle cx="1429.7" cy="165.5" r="3.85"/><circle cx="1436.5" cy="172.3" r="3.85"/><circle cx="1429.7" cy="176.3" r="3.85"/><circle cx="1429.7" cy="169.5" r="3.85"/>
<line x1="1158.5" y1="115.7" x2="1201" y2="115.7" stroke="#000" stroke-width="2.3"/>
<line x1="1274.1" y1="121" x2="1317.8" y2="121" stroke="#000" stroke-width="2.3"/>
<line x1="1389" y1="107.4" x2="1431.6" y2="107.4" stroke="#000" stroke-width="2.3"/>
<line x1="1280.5" y1="82.8" x2="1391.7" y2="82.8" stroke="#000" stroke-width="2.3"/>
<line x1="1317.2" y1="58.5" x2="1431.6" y2="58.5" stroke="#000" stroke-width="2.3"/>
</g>
<g id="panel-f">
<rect x="1627.1" y="216" width="27.2" height="55.3" fill="#fff" stroke="#555" stroke-width="1.4"/>
<line x1="1626.4" y1="270.2" x2="1655" y2="270.2" stroke="#151515" stroke-width="1.6"/>
<rect x="1670.7" y="144.7" width="27.2" height="126.6" fill="#808080" stroke="#444" stroke-width="1.4"/>
<line x1="1670" y1="270.2" x2="1698.6" y2="270.2" stroke="#151515" stroke-width="1.6"/>
<rect x="1742.3" y="232.1" width="26.3" height="39.2" fill="#fff" stroke="#555" stroke-width="1.4"/>
<line x1="1741.6" y1="270.2" x2="1769.3" y2="270.2" stroke="#151515" stroke-width="1.6"/>
<rect x="1784.8" y="154.2" width="27.5" height="117.1" fill="#808080" stroke="#444" stroke-width="1.4"/>
<line x1="1784.1" y1="270.2" x2="1813" y2="270.2" stroke="#151515" stroke-width="1.6"/>
<rect x="1857.1" y="198.7" width="26.9" height="72.6" fill="#fff" stroke="#555" stroke-width="1.4"/>
<line x1="1856.4" y1="270.2" x2="1884.7" y2="270.2" stroke="#151515" stroke-width="1.6"/>
<rect x="1899.4" y="135.5" width="28.2" height="135.8" fill="#808080" stroke="#444" stroke-width="1.4"/>
<line x1="1898.7" y1="270.2" x2="1928.3" y2="270.2" stroke="#151515" stroke-width="1.6"/>
<line x1="1598.9" y1="38.3" x2="1598.9" y2="270.5" stroke="#000" stroke-width="2"/>
<line x1="1589.2" y1="39.3" x2="1598.9" y2="39.3" stroke="#000" stroke-width="2"/>
<line x1="1589.2" y1="114.1" x2="1598.9" y2="114.1" stroke="#000" stroke-width="2"/>
<line x1="1589.2" y1="192.6" x2="1598.9" y2="192.6" stroke="#000" stroke-width="2"/>
<line x1="1589.2" y1="269.5" x2="1944" y2="269.5" stroke="#000" stroke-width="2.2"/>
<line x1="1662.9" y1="269.5" x2="1662.9" y2="277.6" stroke="#000" stroke-width="2"/>
<line x1="1777.5" y1="269.5" x2="1777.5" y2="277.6" stroke="#000" stroke-width="2"/>
<line x1="1891.5" y1="269.5" x2="1891.5" y2="277.6" stroke="#000" stroke-width="2"/>
<path d="M1633.5 187.8H1647.1M1640.3 187.8V240.4M1633.5 240.4H1647.1" stroke="#000" stroke-width="2.2" fill="none"/>
<path d="M1677.4 119.7H1691M1684.2 119.7V166.8M1677.4 166.8H1691" stroke="#000" stroke-width="2.2" fill="none"/>
<path d="M1748.7 208.5H1762.3M1755.5 208.5V255.8M1748.7 255.8H1762.3" stroke="#000" stroke-width="2.2" fill="none"/>
<path d="M1791.7 128.5H1805.3M1798.5 128.5V177.8M1791.7 177.8H1805.3" stroke="#000" stroke-width="2.2" fill="none"/>
<path d="M1863.4 170.4H1877M1870.2 170.4V225.7M1863.4 225.7H1877" stroke="#000" stroke-width="2.2" fill="none"/>
<path d="M1906.7 106.4H1920.3M1913.5 106.4V163.4M1906.7 163.4H1920.3" stroke="#000" stroke-width="2.2" fill="none"/>
<circle cx="1640.3" cy="173.6" r="3.85"/><circle cx="1629.8" cy="190.8" r="3.85"/><circle cx="1651.3" cy="191.5" r="3.85"/><circle cx="1629.8" cy="202.8" r="3.85"/><circle cx="1651.3" cy="208.2" r="3.85"/><circle cx="1629.8" cy="210.1" r="3.85"/><circle cx="1651.3" cy="232.6" r="3.85"/><circle cx="1629.8" cy="237.6" r="3.85"/><circle cx="1651.3" cy="245.3" r="3.85"/><circle cx="1629.8" cy="252.1" r="3.85"/>
<circle cx="1687" cy="114" r="3.85"/><circle cx="1680.2" cy="120.8" r="3.85"/><circle cx="1687" cy="129.9" r="3.85"/><circle cx="1673.4" cy="133.5" r="3.85"/><circle cx="1693.8" cy="132.7" r="3.85"/><circle cx="1680.2" cy="135.5" r="3.85"/><circle cx="1687" cy="152.5" r="3.85"/><circle cx="1680.2" cy="158.2" r="3.85"/><circle cx="1683.6" cy="165.7" r="3.85"/><circle cx="1683.6" cy="190.4" r="3.85"/>
<circle cx="1750.3" cy="200.5" r="3.85"/><circle cx="1760.8" cy="201.9" r="3.85"/><circle cx="1755.2" cy="209.9" r="3.85"/><circle cx="1750.3" cy="222.3" r="3.85"/><circle cx="1760.8" cy="222.3" r="3.85"/><circle cx="1755.2" cy="234.2" r="3.85"/><circle cx="1745" cy="251.3" r="3.85"/><circle cx="1745" cy="261.8" r="3.85"/><circle cx="1755.2" cy="255.8" r="3.85"/><circle cx="1766.2" cy="256.4" r="3.85"/>
<circle cx="1809" cy="124" r="3.85"/><circle cx="1788" cy="129.4" r="3.85"/><circle cx="1809" cy="135.9" r="3.85"/><circle cx="1788" cy="141.2" r="3.85"/><circle cx="1798.2" cy="141.2" r="3.85"/><circle cx="1798.2" cy="150.6" r="3.85"/><circle cx="1788" cy="162.6" r="3.85"/><circle cx="1798.2" cy="169.5" r="3.85"/><circle cx="1809" cy="168.2" r="3.85"/><circle cx="1798.2" cy="206.8" r="3.85"/>
<circle cx="1881" cy="163.3" r="3.85"/><circle cx="1859.4" cy="167.7" r="3.85"/><circle cx="1870.2" cy="168.2" r="3.85"/><circle cx="1870.2" cy="183.2" r="3.85"/><circle cx="1864.8" cy="196.5" r="3.85"/><circle cx="1875.9" cy="196" r="3.85"/><circle cx="1859.4" cy="218.9" r="3.85"/><circle cx="1881" cy="222.1" r="3.85"/><circle cx="1870.2" cy="225.2" r="3.85"/><circle cx="1870.2" cy="240.2" r="3.85"/>
<circle cx="1913.8" cy="100.8" r="3.85"/><circle cx="1903.1" cy="111" r="3.85"/><circle cx="1903.1" cy="118.9" r="3.85"/><circle cx="1913.8" cy="117" r="3.85"/><circle cx="1924.6" cy="123.4" r="3.85"/><circle cx="1913.8" cy="126.3" r="3.85"/><circle cx="1903.1" cy="148.9" r="3.85"/><circle cx="1924.6" cy="148.9" r="3.85"/><circle cx="1913.8" cy="155.2" r="3.85"/><circle cx="1913.5" cy="198" r="3.85"/>
<line x1="1642.2" y1="107.5" x2="1683.8" y2="107.5" stroke="#000" stroke-width="2.3"/>
<line x1="1756.6" y1="121.4" x2="1797.9" y2="121.4" stroke="#000" stroke-width="2.3"/>
<line x1="1870.2" y1="94" x2="1912.7" y2="94" stroke="#000" stroke-width="2.3"/>
<line x1="1762" y1="72.1" x2="1872.8" y2="72.1" stroke="#000" stroke-width="2.3"/>
<line x1="1800.2" y1="48.3" x2="1912.7" y2="48.3" stroke="#000" stroke-width="2.3"/>
</g>
<g id="panel-g">
<rect x="1147.25" y="513.55" width="29.7" height="146.85" fill="#fff" stroke="#777" stroke-width="1.3"/>
<line x1="1146.6" y1="659.3" x2="1177.6" y2="659.3" stroke="#151515" stroke-width="1.6"/>
<line x1="1176.3" y1="512.9" x2="1176.3" y2="659.6" stroke="#8c8c8c" stroke-width="2.6"/>
<rect x="1192.9" y="546.5" width="27.6" height="113.9" fill="#808080" stroke="#444" stroke-width="1.4"/>
<line x1="1192.2" y1="659.3" x2="1221.2" y2="659.3" stroke="#151515" stroke-width="1.6"/>
<rect x="1266.45" y="522.35" width="29.4" height="138.05" fill="#fff" stroke="#777" stroke-width="1.3"/>
<line x1="1265.8" y1="659.3" x2="1296.5" y2="659.3" stroke="#151515" stroke-width="1.6"/>
<line x1="1295.2" y1="521.7" x2="1295.2" y2="659.6" stroke="#8c8c8c" stroke-width="2.6"/>
<line x1="1266.9" y1="521.7" x2="1266.9" y2="659.6" stroke="#333" stroke-width="2.2"/>
<rect x="1312.9" y="557.2" width="27.8" height="103.2" fill="#808080" stroke="#444" stroke-width="1.4"/>
<line x1="1312.2" y1="659.3" x2="1341.4" y2="659.3" stroke="#151515" stroke-width="1.6"/>
<rect x="1387.15" y="501.25" width="28.8" height="159.15" fill="#fff" stroke="#777" stroke-width="1.3"/>
<line x1="1386.5" y1="659.3" x2="1416.6" y2="659.3" stroke="#151515" stroke-width="1.6"/>
<line x1="1415.3" y1="500.6" x2="1415.3" y2="659.6" stroke="#8c8c8c" stroke-width="2.6"/>
<rect x="1432" y="540.1" width="29.4" height="120.3" fill="#808080" stroke="#444" stroke-width="1.4"/>
<line x1="1431.3" y1="659.3" x2="1462.1" y2="659.3" stroke="#151515" stroke-width="1.6"/>
<line x1="1115.8" y1="424.2" x2="1115.8" y2="659.6" stroke="#000" stroke-width="2"/>
<line x1="1106" y1="457.6" x2="1119" y2="457.6" stroke="#000" stroke-width="2"/>
<line x1="1106" y1="523.8" x2="1115.8" y2="523.8" stroke="#000" stroke-width="2"/>
<line x1="1106" y1="591.4" x2="1115.8" y2="591.4" stroke="#000" stroke-width="2"/>
<line x1="1106.2" y1="658.6" x2="1475.9" y2="658.6" stroke="#000" stroke-width="2.2"/>
<line x1="1184.2" y1="658.6" x2="1184.2" y2="668.7" stroke="#000" stroke-width="2"/>
<line x1="1302.1" y1="658.6" x2="1302.1" y2="668.7" stroke="#000" stroke-width="2"/>
<line x1="1423.3" y1="658.6" x2="1423.3" y2="668.7" stroke="#000" stroke-width="2"/>
<path d="M1154.1 500.5H1167.7M1160.9 500.5V526.5M1154.1 526.5H1167.7" stroke="#000" stroke-width="2.2" fill="none"/>
<path d="M1199.5 526.5H1213.1M1206.3 526.5V564.2M1199.5 564.2H1213.1" stroke="#000" stroke-width="2.2" fill="none"/>
<path d="M1273.8 512.3H1287.4M1280.6 512.3V532.4M1273.8 532.4H1287.4" stroke="#000" stroke-width="2.2" fill="none"/>
<path d="M1319.7 538.6H1333.3M1326.5 538.6V573.2M1319.7 573.2H1333.3" stroke="#000" stroke-width="2.2" fill="none"/>
<path d="M1394.4 487H1408M1401.2 487V513.6M1394.4 513.6H1408" stroke="#000" stroke-width="2.2" fill="none"/>
<path d="M1439.5 518.7H1453.1M1446.3 518.7V558.9M1439.5 558.9H1453.1" stroke="#000" stroke-width="2.2" fill="none"/>
<circle cx="1150.2" cy="496.5" r="3.85"/><circle cx="1164.9" cy="494.2" r="3.85"/><circle cx="1157.5" cy="499.9" r="3.85"/><circle cx="1164.9" cy="502.1" r="3.85"/><circle cx="1157.5" cy="508.4" r="3.85"/><circle cx="1150.2" cy="515.7" r="3.85"/><circle cx="1157.5" cy="522.5" r="3.85"/><circle cx="1150.2" cy="528.2" r="3.85"/><circle cx="1164.9" cy="527.1" r="3.85"/><circle cx="1172.3" cy="527.1" r="3.85"/>
<circle cx="1195.3" cy="525.9" r="3.85"/><circle cx="1206.3" cy="524.8" r="3.85"/><circle cx="1217.4" cy="523.3" r="3.85"/><circle cx="1195.3" cy="533.8" r="3.85"/><circle cx="1206.3" cy="540.1" r="3.85"/><circle cx="1206.3" cy="548" r="3.85"/><circle cx="1206.3" cy="559.7" r="3.85"/><circle cx="1217.4" cy="559.2" r="3.85"/><circle cx="1217.3" cy="567" r="3.85"/><circle cx="1195.2" cy="572.4" r="3.85"/>
<circle cx="1270.1" cy="506.6" r="3.85"/><circle cx="1277.5" cy="512.3" r="3.85"/><circle cx="1284.8" cy="511.7" r="3.85"/><circle cx="1292.2" cy="510.4" r="3.85"/><circle cx="1277.5" cy="520.8" r="3.85"/><circle cx="1284.8" cy="520.8" r="3.85"/><circle cx="1270.1" cy="529.9" r="3.85"/><circle cx="1270.1" cy="537.8" r="3.85"/><circle cx="1284.8" cy="533.3" r="3.85"/><circle cx="1292.2" cy="532.1" r="3.85"/>
<circle cx="1315.4" cy="535.3" r="3.85"/><circle cx="1337.5" cy="535.3" r="3.85"/><circle cx="1326.2" cy="538.9" r="3.85"/><circle cx="1315.4" cy="543.5" r="3.85"/><circle cx="1331.9" cy="552.6" r="3.85"/><circle cx="1320.7" cy="557.6" r="3.85"/><circle cx="1337.4" cy="567" r="3.85"/><circle cx="1326.1" cy="573.2" r="3.85"/><circle cx="1337.4" cy="575.5" r="3.85"/><circle cx="1315.3" cy="579.5" r="3.85"/>
<circle cx="1395.5" cy="482.5" r="3.85"/><circle cx="1406.9" cy="481.3" r="3.85"/><circle cx="1401.2" cy="489.8" r="3.85"/><circle cx="1389.9" cy="496.3" r="3.85"/><circle cx="1412.5" cy="496.6" r="3.85"/><circle cx="1401.2" cy="501.7" r="3.85"/><circle cx="1389.9" cy="505.7" r="3.85"/><circle cx="1412" cy="508" r="3.85"/><circle cx="1406.9" cy="517" r="3.85"/><circle cx="1395.5" cy="523" r="3.85"/>
<circle cx="1446.5" cy="513.6" r="3.85"/><circle cx="1434.6" cy="517.6" r="3.85"/><circle cx="1457.9" cy="517.6" r="3.85"/><circle cx="1457.9" cy="526.7" r="3.85"/><circle cx="1446.5" cy="533.5" r="3.85"/><circle cx="1446.4" cy="541.4" r="3.85"/><circle cx="1440.2" cy="556.2" r="3.85"/><circle cx="1452.3" cy="555.5" r="3.85"/><circle cx="1452.3" cy="565" r="3.85"/><circle cx="1440.8" cy="568.3" r="3.85"/>
<line x1="1160.9" y1="487.7" x2="1206" y2="487.7" stroke="#000" stroke-width="2.3"/>
<line x1="1282.6" y1="501.5" x2="1325.1" y2="501.5" stroke="#000" stroke-width="2.3"/>
<line x1="1400.5" y1="474.8" x2="1442.7" y2="474.8" stroke="#000" stroke-width="2.3"/>
<line x1="1280.2" y1="455.3" x2="1398.8" y2="455.3" stroke="#000" stroke-width="2.3"/>
<line x1="1331.2" y1="430.4" x2="1446.8" y2="430.4" stroke="#000" stroke-width="2.3"/>
</g>
<g id="panel-h">
<rect x="1690.7" y="528.5" width="45.7" height="131.8" fill="#fff" stroke="#555" stroke-width="1.8"/>
<line x1="1689.8" y1="659.2" x2="1737.3" y2="659.2" stroke="#151515" stroke-width="1.6"/>
<rect x="1761.3" y="522.6" width="46.5" height="137.7" fill="#808080" stroke="#8a8a8a" stroke-width="2"/>
<line x1="1760.3" y1="659.2" x2="1808.8" y2="659.2" stroke="#151515" stroke-width="1.6"/>
<rect x="1762.4" y="523.6" width="44.3" height="134.9" fill="none" stroke="#4a4a4a" stroke-width="0.8"/>
<line x1="1667.3" y1="435.1" x2="1667.3" y2="659.5" stroke="#000" stroke-width="2"/>
<line x1="1657.2" y1="436.1" x2="1667.3" y2="436.1" stroke="#000" stroke-width="2"/>
<line x1="1657.2" y1="491.5" x2="1667.3" y2="491.5" stroke="#000" stroke-width="2"/>
<line x1="1657.2" y1="547.3" x2="1667.3" y2="547.3" stroke="#000" stroke-width="2"/>
<line x1="1657.2" y1="602.2" x2="1667.3" y2="602.2" stroke="#000" stroke-width="2"/>
<line x1="1657.3" y1="658.5" x2="1833.9" y2="658.5" stroke="#000" stroke-width="2.2"/>
<line x1="1713.4" y1="658.5" x2="1713.4" y2="666.2" stroke="#000" stroke-width="2"/>
<line x1="1784.1" y1="658.5" x2="1784.1" y2="666.2" stroke="#000" stroke-width="2"/>
<path d="M1706.1 511H1721.1M1713.6 511V536M1706.1 536H1721.1" stroke="#000" stroke-width="1.2" fill="none"/>
<path d="M1773.1 503.4H1796M1784.5 503.4V536" stroke="#000" stroke-width="1" fill="none"/>
<circle cx="1713.7" cy="502" r="4.7"/><circle cx="1706.3" cy="513.1" r="4.7"/><circle cx="1721.1" cy="513.1" r="4.7"/><circle cx="1698.8" cy="524.3" r="4.7"/><circle cx="1713.7" cy="524.3" r="4.7"/><circle cx="1728.8" cy="524.3" r="4.7"/><circle cx="1706.3" cy="535.8" r="4.7"/><circle cx="1721.1" cy="535.8" r="4.7"/><circle cx="1713.7" cy="547" r="4.7"/><circle cx="1713.7" cy="558.3" r="4.7"/>
<circle cx="1784.5" cy="490.9" r="4.7"/><circle cx="1784.5" cy="502" r="4.7"/><circle cx="1770" cy="513.1" r="4.7"/><circle cx="1784.5" cy="513.1" r="4.7"/><circle cx="1799.7" cy="513.1" r="4.7"/><circle cx="1784.5" cy="524.3" r="4.7"/><circle cx="1777.1" cy="535.8" r="4.7"/><circle cx="1792" cy="535.8" r="4.7"/><circle cx="1777.1" cy="547" r="4.7"/><circle cx="1792" cy="547" r="4.7"/>
<line x1="1713.4" y1="461.9" x2="1784.1" y2="461.9" stroke="#000" stroke-width="2.3"/>
</g>
<g id="labels">
<text x="15.20" y="65.20" font-size="41.50" font-weight="bold" fill="#fff">a</text>
<text x="501.20" y="65.60" font-size="41.50" font-weight="bold" fill="#fff">b</text>
<text x="66.10" y="422.00" font-size="25.00" stroke="#000" stroke-width="0.3">1</text>
<text x="45.25" y="502.80" font-size="25.00" stroke="#000" stroke-width="0.3">0.8</text>
<text x="45.25" y="584.20" font-size="25.00" stroke="#000" stroke-width="0.3">0.6</text>
<text x="45.25" y="665.10" font-size="25.00" stroke="#000" stroke-width="0.3">0.4</text>
<text x="87.30" y="692.00" font-size="25.00" stroke="#000" stroke-width="0.3">0</text>
<text x="208.90" y="692.00" font-size="25.00" stroke="#000" stroke-width="0.3">2</text>
<text x="330.80" y="692.00" font-size="25.00" stroke="#000" stroke-width="0.3">4</text>
<text x="451.70" y="692.00" font-size="25.00" stroke="#000" stroke-width="0.3">6</text>
<text x="217.70" y="734.80" font-size="25.00" stroke="#000" stroke-width="0.3">Time (min)</text>
<text transform="translate(20.50 618.20) rotate(-90)" x="0.00" y="0" font-size="25.00" stroke="#000" stroke-width="0.3">Amplitude(a.u.)</text>
<text x="431.80" y="519.60" font-size="21.00" stroke="#000" stroke-width="0.3">SR</text>
<text x="430.80" y="544.70" font-size="21.00" stroke="#000" stroke-width="0.3">RD</text>
<text x="430.80" y="570.50" font-size="21.00" stroke="#000" stroke-width="0.3">DV</text>
<text x="-0.30" y="408.60" font-size="41.50" font-weight="bold">c</text>
<text x="572.70" y="422.30" font-size="25.00" stroke="#000" stroke-width="0.3">1</text>
<text x="551.85" y="504.80" font-size="25.00" stroke="#000" stroke-width="0.3">0.9</text>
<text x="551.85" y="584.90" font-size="25.00" stroke="#000" stroke-width="0.3">0.8</text>
<text x="551.85" y="665.30" font-size="25.00" stroke="#000" stroke-width="0.3">0.7</text>
<text x="595.40" y="692.10" font-size="25.00" stroke="#000" stroke-width="0.3">0</text>
<text x="716.00" y="692.10" font-size="25.00" stroke="#000" stroke-width="0.3">2</text>
<text x="836.60" y="692.10" font-size="25.00" stroke="#000" stroke-width="0.3">4</text>
<text x="957.00" y="692.10" font-size="25.00" stroke="#000" stroke-width="0.3">6</text>
<text x="720.50" y="736.00" font-size="25.00" stroke="#000" stroke-width="0.3">Time (min)</text>
<text transform="translate(522.40 618.30) rotate(-90)" x="0.00" y="0" font-size="25.00" stroke="#000" stroke-width="0.3">Amplitude(a.u.)</text>
<text x="499.20" y="408.00" font-size="41.50" font-weight="bold">d</text>
<text x="1142.70" y="106.90" font-size="20.20" stroke="#000" stroke-width="0.3"><tspan font-style="italic">p</tspan>&lt;0.0001</text>
<text x="1257.20" y="113.10" font-size="20.20" stroke="#000" stroke-width="0.3"><tspan font-style="italic">p</tspan>&lt;0.0001</text>
<text x="1371.40" y="101.80" font-size="20.20" stroke="#000" stroke-width="0.3"><tspan font-style="italic">p</tspan>&lt;0.0001</text>
<text x="1300.10" y="77.00" font-size="20.20" stroke="#000" stroke-width="0.3"><tspan font-style="italic">p</tspan>=0.0003</text>
<text x="1340.10" y="50.00" font-size="20.20" stroke="#000" stroke-width="0.3"><tspan font-style="italic">p</tspan>=0.0147</text>
<text x="1056.05" y="45.70" font-size="25.00" stroke="#000" stroke-width="0.3">0.8</text>
<text x="1056.05" y="103.20" font-size="25.00" stroke="#000" stroke-width="0.3">0.6</text>
<text x="1055.05" y="161.20" font-size="25.00" stroke="#000" stroke-width="0.3">0.4</text>
<text x="1056.05" y="219.10" font-size="25.00" stroke="#000" stroke-width="0.3">0.2</text>
<text x="1056.05" y="277.40" font-size="25.00" stroke="#000" stroke-width="0.3">0.0</text>
<text x="1163.17" y="312.00" font-size="25.00" stroke="#000" stroke-width="0.3">DV</text>
<text x="1278.86" y="312.00" font-size="25.00" stroke="#000" stroke-width="0.3">SD</text>
<text x="1393.77" y="312.00" font-size="25.00" stroke="#000" stroke-width="0.3">RD</text>
<text transform="translate(1032.40 208.80) rotate(-90)" x="-2.00" y="0" font-size="25.00" stroke="#000" stroke-width="0.3">MVC (a.u.)</text>
<text x="1010.70" y="35.00" font-size="41.50" font-weight="bold">e</text>
<text x="1625.70" y="101.00" font-size="20.20" stroke="#000" stroke-width="0.3"><tspan font-style="italic">p</tspan>&lt;0.0001</text>
<text x="1740.90" y="114.70" font-size="20.20" stroke="#000" stroke-width="0.3"><tspan font-style="italic">p</tspan>&lt;0.0001</text>
<text x="1850.80" y="90.00" font-size="20.20" stroke="#000" stroke-width="0.3"><tspan font-style="italic">p</tspan>=0.0003</text>
<text x="1774.00" y="65.90" font-size="20.20" stroke="#000" stroke-width="0.3"><tspan font-style="italic">p</tspan>=0.0115</text>
<text x="1846.00" y="41.80" font-size="20.20" stroke="#000" stroke-width="0.3">ns</text>
<text x="1545.10" y="48.50" font-size="25.00" stroke="#000" stroke-width="0.3">30</text>
<text x="1545.10" y="125.10" font-size="25.00" stroke="#000" stroke-width="0.3">20</text>
<text x="1545.10" y="202.20" font-size="25.00" stroke="#000" stroke-width="0.3">10</text>
<text x="1559.00" y="278.50" font-size="25.00" stroke="#000" stroke-width="0.3">0</text>
<text x="1645.47" y="312.00" font-size="25.00" stroke="#000" stroke-width="0.3">DV</text>
<text x="1760.26" y="312.00" font-size="25.00" stroke="#000" stroke-width="0.3">SD</text>
<text x="1873.97" y="312.00" font-size="25.00" stroke="#000" stroke-width="0.3">RD</text>
<text transform="translate(1522.70 194.00) rotate(-90)" x="-2.00" y="0" font-size="25.00" stroke="#000" stroke-width="0.3">HR (%)</text>
<text x="1509.30" y="30.60" font-size="41.50" font-weight="bold">f</text>
<text x="1148.90" y="477.80" font-size="20.20" stroke="#000" stroke-width="0.3"><tspan font-style="italic">p</tspan>&lt;0.0011</text>
<text x="1268.80" y="495.90" font-size="20.20" stroke="#000" stroke-width="0.3"><tspan font-style="italic">p</tspan>&lt;0.0001</text>
<text x="1387.00" y="471.70" font-size="20.20" stroke="#000" stroke-width="0.3"><tspan font-style="italic">p</tspan>=0.002</text>
<text x="1306.10" y="448.20" font-size="20.20" stroke="#000" stroke-width="0.3"><tspan font-style="italic">p</tspan>=0.0021</text>
<text x="1377.40" y="426.10" font-size="20.20" stroke="#000" stroke-width="0.3">ns</text>
<text x="1077.10" y="466.80" font-size="25.00" stroke="#000" stroke-width="0.3">3</text>
<text x="1077.10" y="532.80" font-size="25.00" stroke="#000" stroke-width="0.3">2</text>
<text x="1077.10" y="598.80" font-size="25.00" stroke="#000" stroke-width="0.3">1</text>
<text x="1077.10" y="666.40" font-size="25.00" stroke="#000" stroke-width="0.3">0</text>
<text x="1166.37" y="703.30" font-size="25.00" stroke="#000" stroke-width="0.3">DV</text>
<text x="1286.76" y="703.30" font-size="25.00" stroke="#000" stroke-width="0.3">SD</text>
<text x="1405.07" y="703.30" font-size="25.00" stroke="#000" stroke-width="0.3">RD</text>
<text transform="translate(1052.10 595.40) rotate(-90)" x="0.00" y="0" font-size="25.00" stroke="#000" stroke-width="0.3">TP (mins)</text>
<text x="1010.90" y="408.00" font-size="41.50" font-weight="bold">g</text>
<text x="1735.60" y="453.70" font-size="20.20" stroke="#000" stroke-width="0.3">ns</text>
<text x="1580.44" y="445.30" font-size="25.00" stroke="#000" stroke-width="0.3">0.020</text>
<text x="1580.44" y="500.20" font-size="25.00" stroke="#000" stroke-width="0.3">0.015</text>
<text x="1580.44" y="556.10" font-size="25.00" stroke="#000" stroke-width="0.3">0.010</text>
<text x="1580.44" y="612.40" font-size="25.00" stroke="#000" stroke-width="0.3">0.005</text>
<text x="1580.44" y="667.40" font-size="25.00" stroke="#000" stroke-width="0.3">0.000</text>
<text x="1687.14" y="700.00" font-size="25.00" stroke="#000" stroke-width="0.3">CVD</text>
<text x="1767.27" y="699.80" font-size="25.00" stroke="#000" stroke-width="0.3">HV</text>
<text transform="translate(1531.30 652.60) rotate(-90)" x="0.00" y="0" font-size="25.00" stroke="#000" stroke-width="0.3">Total blood volume</text>
<text transform="translate(1556.50 577.00) rotate(-90)" x="-1.00" y="0" font-size="25.00" stroke="#000" stroke-width="0.3">(a.u.)</text>
<text x="1509.90" y="408.50" font-size="41.50" font-weight="bold">h</text>
</g>
</svg>
</body>
</html>
